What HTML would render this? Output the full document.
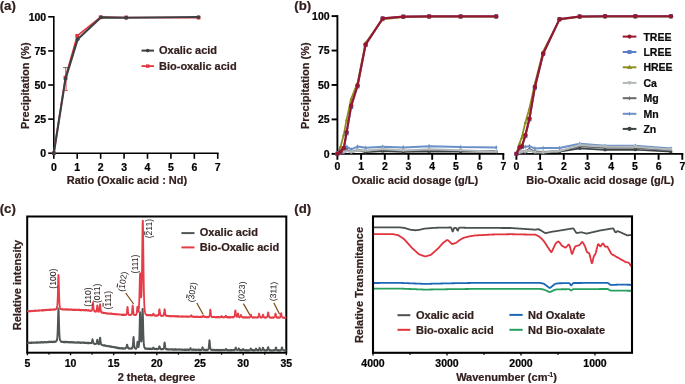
<!DOCTYPE html>
<html><head><meta charset="utf-8"><title>Figure</title>
<style>
html,body{margin:0;padding:0;background:#fff;}
body{width:685px;height:384px;overflow:hidden;font-family:"Liberation Sans",sans-serif;}
svg{display:block;will-change:transform;}
svg text{font-family:"Liberation Sans",sans-serif;}
</style></head><body>
<svg width="685" height="384" viewBox="0 0 685 384">
<rect width="685" height="384" fill="#fff"/>
<line x1="53.80" y1="16.00" x2="53.80" y2="154.00" stroke="#000" stroke-width="1.6" stroke-linecap="butt"/>
<line x1="53.00" y1="153.20" x2="218.54" y2="153.20" stroke="#000" stroke-width="1.6" stroke-linecap="butt"/>
<line x1="48.20" y1="153.20" x2="53.80" y2="153.20" stroke="#000" stroke-width="1.6" stroke-linecap="butt"/>
<text x="46.20" y="157.10" font-size="10.5" font-weight="bold" text-anchor="end" fill="#000" stroke="#000" stroke-width="0.22" >0</text>
<line x1="48.20" y1="119.10" x2="53.80" y2="119.10" stroke="#000" stroke-width="1.6" stroke-linecap="butt"/>
<text x="46.20" y="123.00" font-size="10.5" font-weight="bold" text-anchor="end" fill="#000" stroke="#000" stroke-width="0.22" >25</text>
<line x1="48.20" y1="85.00" x2="53.80" y2="85.00" stroke="#000" stroke-width="1.6" stroke-linecap="butt"/>
<text x="46.20" y="88.90" font-size="10.5" font-weight="bold" text-anchor="end" fill="#000" stroke="#000" stroke-width="0.22" >50</text>
<line x1="48.20" y1="50.90" x2="53.80" y2="50.90" stroke="#000" stroke-width="1.6" stroke-linecap="butt"/>
<text x="46.20" y="54.80" font-size="10.5" font-weight="bold" text-anchor="end" fill="#000" stroke="#000" stroke-width="0.22" >75</text>
<line x1="48.20" y1="16.80" x2="53.80" y2="16.80" stroke="#000" stroke-width="1.6" stroke-linecap="butt"/>
<text x="46.20" y="20.70" font-size="10.5" font-weight="bold" text-anchor="end" fill="#000" stroke="#000" stroke-width="0.22" >100</text>
<line x1="53.80" y1="153.20" x2="53.80" y2="158.80" stroke="#000" stroke-width="1.6" stroke-linecap="butt"/>
<text x="53.80" y="170.50" font-size="10.5" font-weight="bold" text-anchor="middle" fill="#000" stroke="#000" stroke-width="0.22" >0</text>
<line x1="77.22" y1="153.20" x2="77.22" y2="158.80" stroke="#000" stroke-width="1.6" stroke-linecap="butt"/>
<text x="77.22" y="170.50" font-size="10.5" font-weight="bold" text-anchor="middle" fill="#000" stroke="#000" stroke-width="0.22" >1</text>
<line x1="100.64" y1="153.20" x2="100.64" y2="158.80" stroke="#000" stroke-width="1.6" stroke-linecap="butt"/>
<text x="100.64" y="170.50" font-size="10.5" font-weight="bold" text-anchor="middle" fill="#000" stroke="#000" stroke-width="0.22" >2</text>
<line x1="124.06" y1="153.20" x2="124.06" y2="158.80" stroke="#000" stroke-width="1.6" stroke-linecap="butt"/>
<text x="124.06" y="170.50" font-size="10.5" font-weight="bold" text-anchor="middle" fill="#000" stroke="#000" stroke-width="0.22" >3</text>
<line x1="147.48" y1="153.20" x2="147.48" y2="158.80" stroke="#000" stroke-width="1.6" stroke-linecap="butt"/>
<text x="147.48" y="170.50" font-size="10.5" font-weight="bold" text-anchor="middle" fill="#000" stroke="#000" stroke-width="0.22" >4</text>
<line x1="170.90" y1="153.20" x2="170.90" y2="158.80" stroke="#000" stroke-width="1.6" stroke-linecap="butt"/>
<text x="170.90" y="170.50" font-size="10.5" font-weight="bold" text-anchor="middle" fill="#000" stroke="#000" stroke-width="0.22" >5</text>
<line x1="194.32" y1="153.20" x2="194.32" y2="158.80" stroke="#000" stroke-width="1.6" stroke-linecap="butt"/>
<text x="194.32" y="170.50" font-size="10.5" font-weight="bold" text-anchor="middle" fill="#000" stroke="#000" stroke-width="0.22" >6</text>
<line x1="217.74" y1="153.20" x2="217.74" y2="158.80" stroke="#000" stroke-width="1.6" stroke-linecap="butt"/>
<text x="217.74" y="170.50" font-size="10.5" font-weight="bold" text-anchor="middle" fill="#000" stroke="#000" stroke-width="0.22" >7</text>
<text x="127.00" y="183.60" font-size="11" font-weight="bold" text-anchor="middle" fill="#33201e" stroke="#33201e" stroke-width="0.22" >Ratio (Oxalic acid : Nd)</text>
<text x="28.90" y="85.70" font-size="11" font-weight="bold" text-anchor="middle" fill="#33201e" stroke="#33201e" stroke-width="0.22" transform="rotate(-90 28.9 85.7)" >Precipitation (%)</text>
<text x="-0.30" y="10.00" font-size="13.2" font-weight="bold" text-anchor="start" fill="#33201e" stroke="#33201e" stroke-width="0.22" >(a)</text>
<line x1="66.11" y1="77.50" x2="66.11" y2="90.40" stroke="#e2353f" stroke-width="0.8" stroke-linecap="butt"/>
<line x1="64.91" y1="90.40" x2="67.91" y2="90.40" stroke="#e2353f" stroke-width="0.9" stroke-linecap="butt"/>
<line x1="65.71" y1="67.60" x2="65.71" y2="77.50" stroke="#6b4a48" stroke-width="0.8" stroke-linecap="butt"/>
<line x1="63.11" y1="67.60" x2="68.11" y2="67.60" stroke="#6b4a48" stroke-width="0.9" stroke-linecap="butt"/>
<polyline points="53.80,153.20 65.51,77.50 77.22,35.90 100.64,17.21 126.17,17.48 198.54,17.62" fill="none" stroke="#e2353f" stroke-width="1.7" stroke-linejoin="round" stroke-linecap="round" />
<rect x="51.90" y="151.30" width="3.8" height="3.8" fill="#e2353f"/>
<rect x="63.61" y="75.60" width="3.8" height="3.8" fill="#e2353f"/>
<rect x="75.32" y="34.00" width="3.8" height="3.8" fill="#e2353f"/>
<rect x="98.74" y="15.31" width="3.8" height="3.8" fill="#e2353f"/>
<rect x="124.27" y="15.58" width="3.8" height="3.8" fill="#e2353f"/>
<rect x="196.64" y="15.72" width="3.8" height="3.8" fill="#e2353f"/>
<polyline points="53.80,153.20 65.51,78.86 77.69,39.17 101.11,17.35 126.17,17.75 198.54,17.07" fill="none" stroke="#3c4043" stroke-width="2.1" stroke-linejoin="round" stroke-linecap="round" />
<circle cx="53.80" cy="153.20" r="1.9" fill="#3c4043"/>
<circle cx="65.51" cy="78.86" r="1.9" fill="#3c4043"/>
<circle cx="77.69" cy="39.17" r="1.9" fill="#3c4043"/>
<circle cx="101.11" cy="17.35" r="1.9" fill="#3c4043"/>
<circle cx="126.17" cy="17.75" r="1.9" fill="#3c4043"/>
<circle cx="198.54" cy="17.07" r="1.9" fill="#3c4043"/>
<line x1="141.50" y1="50.60" x2="154.00" y2="50.60" stroke="#3c4043" stroke-width="2.0" stroke-linecap="butt"/>
<circle cx="147.7" cy="50.6" r="1.8" fill="#3c4043"/>
<line x1="141.50" y1="66.10" x2="154.00" y2="66.10" stroke="#e2353f" stroke-width="1.8" stroke-linecap="butt"/>
<rect x="146" y="64.4" width="3.4" height="3.4" fill="#e2353f"/>
<text x="159.00" y="54.20" font-size="11" font-weight="bold" text-anchor="start" fill="#33201e" stroke="#33201e" stroke-width="0.22" >Oxalic acid</text>
<text x="159.00" y="69.80" font-size="11" font-weight="bold" text-anchor="start" fill="#33201e" stroke="#33201e" stroke-width="0.22" >Bio-oxalic acid</text>
<line x1="337.40" y1="15.15" x2="337.40" y2="154.80" stroke="#000" stroke-width="1.9" stroke-linecap="butt"/>
<line x1="336.45" y1="153.85" x2="504.25" y2="153.85" stroke="#000" stroke-width="1.9" stroke-linecap="butt"/>
<line x1="515.45" y1="153.85" x2="683.25" y2="153.85" stroke="#000" stroke-width="1.9" stroke-linecap="butt"/>
<line x1="331.60" y1="153.85" x2="337.40" y2="153.85" stroke="#000" stroke-width="1.9" stroke-linecap="butt"/>
<text x="329.60" y="157.75" font-size="10.5" font-weight="bold" text-anchor="end" fill="#000" stroke="#000" stroke-width="0.22" >0</text>
<line x1="331.60" y1="119.41" x2="337.40" y2="119.41" stroke="#000" stroke-width="1.9" stroke-linecap="butt"/>
<text x="329.60" y="123.31" font-size="10.5" font-weight="bold" text-anchor="end" fill="#000" stroke="#000" stroke-width="0.22" >25</text>
<line x1="331.60" y1="84.97" x2="337.40" y2="84.97" stroke="#000" stroke-width="1.9" stroke-linecap="butt"/>
<text x="329.60" y="88.88" font-size="10.5" font-weight="bold" text-anchor="end" fill="#000" stroke="#000" stroke-width="0.22" >50</text>
<line x1="331.60" y1="50.54" x2="337.40" y2="50.54" stroke="#000" stroke-width="1.9" stroke-linecap="butt"/>
<text x="329.60" y="54.44" font-size="10.5" font-weight="bold" text-anchor="end" fill="#000" stroke="#000" stroke-width="0.22" >75</text>
<line x1="331.60" y1="16.10" x2="337.40" y2="16.10" stroke="#000" stroke-width="1.9" stroke-linecap="butt"/>
<text x="329.60" y="20.00" font-size="10.5" font-weight="bold" text-anchor="end" fill="#000" stroke="#000" stroke-width="0.22" >100</text>
<line x1="337.40" y1="153.85" x2="337.40" y2="159.75" stroke="#000" stroke-width="1.9" stroke-linecap="butt"/>
<text x="337.40" y="170.20" font-size="10.5" font-weight="bold" text-anchor="middle" fill="#000" stroke="#000" stroke-width="0.22" >0</text>
<line x1="516.40" y1="153.85" x2="516.40" y2="159.75" stroke="#000" stroke-width="1.9" stroke-linecap="butt"/>
<text x="516.40" y="170.20" font-size="10.5" font-weight="bold" text-anchor="middle" fill="#000" stroke="#000" stroke-width="0.22" >0</text>
<line x1="361.10" y1="153.85" x2="361.10" y2="159.75" stroke="#000" stroke-width="1.9" stroke-linecap="butt"/>
<text x="361.10" y="170.20" font-size="10.5" font-weight="bold" text-anchor="middle" fill="#000" stroke="#000" stroke-width="0.22" >1</text>
<line x1="540.10" y1="153.85" x2="540.10" y2="159.75" stroke="#000" stroke-width="1.9" stroke-linecap="butt"/>
<text x="540.10" y="170.20" font-size="10.5" font-weight="bold" text-anchor="middle" fill="#000" stroke="#000" stroke-width="0.22" >1</text>
<line x1="384.80" y1="153.85" x2="384.80" y2="159.75" stroke="#000" stroke-width="1.9" stroke-linecap="butt"/>
<text x="384.80" y="170.20" font-size="10.5" font-weight="bold" text-anchor="middle" fill="#000" stroke="#000" stroke-width="0.22" >2</text>
<line x1="563.80" y1="153.85" x2="563.80" y2="159.75" stroke="#000" stroke-width="1.9" stroke-linecap="butt"/>
<text x="563.80" y="170.20" font-size="10.5" font-weight="bold" text-anchor="middle" fill="#000" stroke="#000" stroke-width="0.22" >2</text>
<line x1="408.50" y1="153.85" x2="408.50" y2="159.75" stroke="#000" stroke-width="1.9" stroke-linecap="butt"/>
<text x="408.50" y="170.20" font-size="10.5" font-weight="bold" text-anchor="middle" fill="#000" stroke="#000" stroke-width="0.22" >3</text>
<line x1="587.50" y1="153.85" x2="587.50" y2="159.75" stroke="#000" stroke-width="1.9" stroke-linecap="butt"/>
<text x="587.50" y="170.20" font-size="10.5" font-weight="bold" text-anchor="middle" fill="#000" stroke="#000" stroke-width="0.22" >3</text>
<line x1="432.20" y1="153.85" x2="432.20" y2="159.75" stroke="#000" stroke-width="1.9" stroke-linecap="butt"/>
<text x="432.20" y="170.20" font-size="10.5" font-weight="bold" text-anchor="middle" fill="#000" stroke="#000" stroke-width="0.22" >4</text>
<line x1="611.20" y1="153.85" x2="611.20" y2="159.75" stroke="#000" stroke-width="1.9" stroke-linecap="butt"/>
<text x="611.20" y="170.20" font-size="10.5" font-weight="bold" text-anchor="middle" fill="#000" stroke="#000" stroke-width="0.22" >4</text>
<line x1="455.90" y1="153.85" x2="455.90" y2="159.75" stroke="#000" stroke-width="1.9" stroke-linecap="butt"/>
<text x="455.90" y="170.20" font-size="10.5" font-weight="bold" text-anchor="middle" fill="#000" stroke="#000" stroke-width="0.22" >5</text>
<line x1="634.90" y1="153.85" x2="634.90" y2="159.75" stroke="#000" stroke-width="1.9" stroke-linecap="butt"/>
<text x="634.90" y="170.20" font-size="10.5" font-weight="bold" text-anchor="middle" fill="#000" stroke="#000" stroke-width="0.22" >5</text>
<line x1="479.60" y1="153.85" x2="479.60" y2="159.75" stroke="#000" stroke-width="1.9" stroke-linecap="butt"/>
<text x="479.60" y="170.20" font-size="10.5" font-weight="bold" text-anchor="middle" fill="#000" stroke="#000" stroke-width="0.22" >6</text>
<line x1="658.60" y1="153.85" x2="658.60" y2="159.75" stroke="#000" stroke-width="1.9" stroke-linecap="butt"/>
<text x="658.60" y="170.20" font-size="10.5" font-weight="bold" text-anchor="middle" fill="#000" stroke="#000" stroke-width="0.22" >6</text>
<line x1="503.30" y1="153.85" x2="503.30" y2="159.75" stroke="#000" stroke-width="1.9" stroke-linecap="butt"/>
<text x="503.30" y="170.20" font-size="10.5" font-weight="bold" text-anchor="middle" fill="#000" stroke="#000" stroke-width="0.22" >7</text>
<line x1="682.30" y1="153.85" x2="682.30" y2="159.75" stroke="#000" stroke-width="1.9" stroke-linecap="butt"/>
<text x="682.30" y="170.20" font-size="10.5" font-weight="bold" text-anchor="middle" fill="#000" stroke="#000" stroke-width="0.22" >7</text>
<text x="415.00" y="184.00" font-size="11" font-weight="bold" text-anchor="middle" fill="#33201e" stroke="#33201e" stroke-width="0.22" >Oxalic acid dosage (g/L)</text>
<text x="600.30" y="184.00" font-size="11" font-weight="bold" text-anchor="middle" fill="#33201e" stroke="#33201e" stroke-width="0.22" >Bio-Oxalic acid dosage (g/L)</text>
<text x="308.60" y="85.70" font-size="11" font-weight="bold" text-anchor="middle" fill="#33201e" stroke="#33201e" stroke-width="0.22" transform="rotate(-90 308.6 85.7)" >Precipitation (%)</text>
<text x="294.30" y="10.00" font-size="13.2" font-weight="bold" text-anchor="start" fill="#33201e" stroke="#33201e" stroke-width="0.22" >(b)</text>
<polyline points="337.40,153.85 340.48,147.24 343.80,148.34 346.64,146.69 351.15,149.30 357.54,146.55 365.60,147.79 382.67,146.69 403.29,147.38 429.12,146.14 460.64,147.10 496.19,147.38" fill="none" stroke="#6a90c8" stroke-width="2.0" stroke-linejoin="round" stroke-linecap="round" />
<path d="M336.13,153.85 L337.40,151.55 L338.66,153.85 L337.40,156.15Z" fill="#6a90c8"/>
<path d="M339.22,147.24 L340.48,144.94 L341.75,147.24 L340.48,149.54Z" fill="#6a90c8"/>
<path d="M342.53,148.34 L343.80,146.04 L345.06,148.34 L343.80,150.64Z" fill="#6a90c8"/>
<path d="M345.38,146.69 L346.64,144.39 L347.91,146.69 L346.64,148.99Z" fill="#6a90c8"/>
<path d="M349.88,149.30 L351.15,147.00 L352.41,149.30 L351.15,151.60Z" fill="#6a90c8"/>
<path d="M356.28,146.55 L357.54,144.25 L358.81,146.55 L357.54,148.85Z" fill="#6a90c8"/>
<path d="M364.34,147.79 L365.60,145.49 L366.87,147.79 L365.60,150.09Z" fill="#6a90c8"/>
<path d="M381.40,146.69 L382.67,144.39 L383.93,146.69 L382.67,148.99Z" fill="#6a90c8"/>
<path d="M402.02,147.38 L403.29,145.08 L404.55,147.38 L403.29,149.68Z" fill="#6a90c8"/>
<path d="M427.85,146.14 L429.12,143.84 L430.38,146.14 L429.12,148.44Z" fill="#6a90c8"/>
<path d="M459.38,147.10 L460.64,144.80 L461.90,147.10 L460.64,149.40Z" fill="#6a90c8"/>
<path d="M494.92,147.38 L496.19,145.08 L497.45,147.38 L496.19,149.68Z" fill="#6a90c8"/>
<polyline points="337.40,153.85 340.48,152.75 343.80,151.78 346.64,150.27 351.15,151.92 357.54,149.72 365.60,150.82 382.67,149.72 403.29,150.82 429.12,150.27 460.64,150.82 496.19,150.96" fill="none" stroke="#666a6b" stroke-width="1.6" stroke-linejoin="round" stroke-linecap="round" />
<path d="M336.41,153.85 L337.40,152.05 L338.39,153.85 L337.40,155.65Z" fill="#666a6b"/>
<path d="M339.49,152.75 L340.48,150.95 L341.47,152.75 L340.48,154.55Z" fill="#666a6b"/>
<path d="M342.81,151.78 L343.80,149.98 L344.79,151.78 L343.80,153.58Z" fill="#666a6b"/>
<path d="M345.65,150.27 L346.64,148.47 L347.63,150.27 L346.64,152.07Z" fill="#666a6b"/>
<path d="M350.16,151.92 L351.15,150.12 L352.14,151.92 L351.15,153.72Z" fill="#666a6b"/>
<path d="M356.55,149.72 L357.54,147.92 L358.53,149.72 L357.54,151.52Z" fill="#666a6b"/>
<path d="M364.61,150.82 L365.60,149.02 L366.59,150.82 L365.60,152.62Z" fill="#666a6b"/>
<path d="M381.68,149.72 L382.67,147.92 L383.66,149.72 L382.67,151.52Z" fill="#666a6b"/>
<path d="M402.30,150.82 L403.29,149.02 L404.28,150.82 L403.29,152.62Z" fill="#666a6b"/>
<path d="M428.13,150.27 L429.12,148.47 L430.11,150.27 L429.12,152.07Z" fill="#666a6b"/>
<path d="M459.65,150.82 L460.64,149.02 L461.63,150.82 L460.64,152.62Z" fill="#666a6b"/>
<path d="M495.20,150.96 L496.19,149.16 L497.18,150.96 L496.19,152.76Z" fill="#666a6b"/>
<polyline points="337.40,153.85 340.48,153.16 343.80,152.47 346.64,149.72 351.15,152.47 357.54,150.27 365.60,152.20 382.67,151.09 403.29,151.92 429.12,151.37 460.64,151.78 496.19,151.65" fill="none" stroke="#3d4345" stroke-width="1.6" stroke-linejoin="round" stroke-linecap="round" />
<rect x="336.00" y="152.45" width="2.8" height="2.8" fill="#3d4345"/>
<rect x="339.08" y="151.76" width="2.8" height="2.8" fill="#3d4345"/>
<rect x="342.40" y="151.07" width="2.8" height="2.8" fill="#3d4345"/>
<rect x="345.24" y="148.32" width="2.8" height="2.8" fill="#3d4345"/>
<rect x="349.75" y="151.07" width="2.8" height="2.8" fill="#3d4345"/>
<rect x="356.14" y="148.87" width="2.8" height="2.8" fill="#3d4345"/>
<rect x="364.20" y="150.80" width="2.8" height="2.8" fill="#3d4345"/>
<rect x="381.27" y="149.69" width="2.8" height="2.8" fill="#3d4345"/>
<rect x="401.89" y="150.52" width="2.8" height="2.8" fill="#3d4345"/>
<rect x="427.72" y="149.97" width="2.8" height="2.8" fill="#3d4345"/>
<rect x="459.24" y="150.38" width="2.8" height="2.8" fill="#3d4345"/>
<rect x="494.79" y="150.25" width="2.8" height="2.8" fill="#3d4345"/>
<polyline points="337.40,153.85 340.48,152.75 343.80,152.20 346.64,151.09 351.15,152.20 357.54,150.54 365.60,150.82 382.67,149.03 403.29,150.41 429.12,149.30 460.64,150.27 496.19,151.78" fill="none" stroke="#b3b9ba" stroke-width="2.0" stroke-linejoin="round" stroke-linecap="round" />
<path d="M335.70,152.15 L339.10,152.15 L337.40,155.55Z" fill="#b3b9ba"/>
<path d="M338.78,151.05 L342.18,151.05 L340.48,154.45Z" fill="#b3b9ba"/>
<path d="M342.10,150.50 L345.50,150.50 L343.80,153.90Z" fill="#b3b9ba"/>
<path d="M344.94,149.40 L348.34,149.40 L346.64,152.79Z" fill="#b3b9ba"/>
<path d="M349.45,150.50 L352.85,150.50 L351.15,153.90Z" fill="#b3b9ba"/>
<path d="M355.84,148.84 L359.24,148.84 L357.54,152.24Z" fill="#b3b9ba"/>
<path d="M363.90,149.12 L367.30,149.12 L365.60,152.52Z" fill="#b3b9ba"/>
<path d="M380.97,147.33 L384.37,147.33 L382.67,150.73Z" fill="#b3b9ba"/>
<path d="M401.59,148.71 L404.99,148.71 L403.29,152.11Z" fill="#b3b9ba"/>
<path d="M427.42,147.60 L430.82,147.60 L429.12,151.00Z" fill="#b3b9ba"/>
<path d="M458.94,148.57 L462.34,148.57 L460.64,151.97Z" fill="#b3b9ba"/>
<path d="M494.49,150.08 L497.89,150.08 L496.19,153.48Z" fill="#b3b9ba"/>
<polyline points="337.40,153.85 340.48,146.96 343.80,134.56 346.64,119.41 351.15,98.75 357.54,82.91 365.60,42.82 382.67,19.41 403.29,17.06 429.12,16.65 460.64,16.65 496.19,16.65" fill="none" stroke="#8e8f23" stroke-width="1.8" stroke-linejoin="round" stroke-linecap="round" />
<path d="M335.60,155.65 L339.20,155.65 L337.40,152.05Z" fill="#8e8f23"/>
<path d="M338.68,148.76 L342.28,148.76 L340.48,145.16Z" fill="#8e8f23"/>
<path d="M342.00,136.37 L345.60,136.37 L343.80,132.76Z" fill="#8e8f23"/>
<path d="M344.84,121.21 L348.44,121.21 L346.64,117.61Z" fill="#8e8f23"/>
<path d="M349.35,100.55 L352.95,100.55 L351.15,96.95Z" fill="#8e8f23"/>
<path d="M355.74,84.71 L359.34,84.71 L357.54,81.11Z" fill="#8e8f23"/>
<path d="M363.80,44.62 L367.40,44.62 L365.60,41.02Z" fill="#8e8f23"/>
<path d="M380.87,21.21 L384.47,21.21 L382.67,17.61Z" fill="#8e8f23"/>
<path d="M401.49,18.86 L405.09,18.86 L403.29,15.26Z" fill="#8e8f23"/>
<path d="M427.32,18.45 L430.92,18.45 L429.12,14.85Z" fill="#8e8f23"/>
<path d="M458.84,18.45 L462.44,18.45 L460.64,14.85Z" fill="#8e8f23"/>
<path d="M494.39,18.45 L497.99,18.45 L496.19,14.85Z" fill="#8e8f23"/>
<polyline points="337.40,153.85 340.48,152.06 343.80,148.34 346.64,133.19 351.15,107.01 357.54,86.35 365.60,45.03 382.67,18.44 403.29,16.65 429.12,16.38 460.64,16.38 496.19,16.38" fill="none" stroke="#5b7ec4" stroke-width="1.8" stroke-linejoin="round" stroke-linecap="round" />
<rect x="335.30" y="151.75" width="4.2" height="4.2" fill="#5b7ec4"/>
<rect x="338.38" y="149.96" width="4.2" height="4.2" fill="#5b7ec4"/>
<rect x="341.70" y="146.24" width="4.2" height="4.2" fill="#5b7ec4"/>
<rect x="344.54" y="131.09" width="4.2" height="4.2" fill="#5b7ec4"/>
<rect x="349.05" y="104.91" width="4.2" height="4.2" fill="#5b7ec4"/>
<rect x="355.44" y="84.25" width="4.2" height="4.2" fill="#5b7ec4"/>
<rect x="363.50" y="42.93" width="4.2" height="4.2" fill="#5b7ec4"/>
<rect x="380.57" y="16.34" width="4.2" height="4.2" fill="#5b7ec4"/>
<rect x="401.19" y="14.55" width="4.2" height="4.2" fill="#5b7ec4"/>
<rect x="427.02" y="14.28" width="4.2" height="4.2" fill="#5b7ec4"/>
<rect x="458.54" y="14.28" width="4.2" height="4.2" fill="#5b7ec4"/>
<rect x="494.09" y="14.28" width="4.2" height="4.2" fill="#5b7ec4"/>
<polyline points="337.40,153.85 340.48,151.78 343.80,148.06 346.64,132.09 351.15,105.64 357.54,85.53 365.60,44.48 382.67,18.44 403.29,16.65 429.12,16.38 460.64,16.38 496.19,16.38" fill="none" stroke="#96172e" stroke-width="2.2" stroke-linejoin="round" stroke-linecap="round" />
<circle cx="337.40" cy="153.85" r="2.2" fill="#96172e"/>
<circle cx="340.48" cy="151.78" r="2.2" fill="#96172e"/>
<circle cx="343.80" cy="148.06" r="2.2" fill="#96172e"/>
<circle cx="346.64" cy="132.09" r="2.2" fill="#96172e"/>
<circle cx="351.15" cy="105.64" r="2.2" fill="#96172e"/>
<circle cx="357.54" cy="85.53" r="2.2" fill="#96172e"/>
<circle cx="365.60" cy="44.48" r="2.2" fill="#96172e"/>
<circle cx="382.67" cy="18.44" r="2.2" fill="#96172e"/>
<circle cx="403.29" cy="16.65" r="2.2" fill="#96172e"/>
<circle cx="429.12" cy="16.38" r="2.2" fill="#96172e"/>
<circle cx="460.64" cy="16.38" r="2.2" fill="#96172e"/>
<circle cx="496.19" cy="16.38" r="2.2" fill="#96172e"/>
<polyline points="516.40,153.85 519.72,146.96 521.85,146.41 525.41,146.69 529.43,146.14 534.89,148.62 543.18,148.06 559.53,148.06 579.68,143.79 605.04,145.72 635.37,145.72 670.92,148.48" fill="none" stroke="#6a90c8" stroke-width="2.0" stroke-linejoin="round" stroke-linecap="round" />
<path d="M515.13,153.85 L516.40,151.55 L517.66,153.85 L516.40,156.15Z" fill="#6a90c8"/>
<path d="M518.45,146.96 L519.72,144.66 L520.98,146.96 L519.72,149.26Z" fill="#6a90c8"/>
<path d="M520.59,146.41 L521.85,144.11 L523.12,146.41 L521.85,148.71Z" fill="#6a90c8"/>
<path d="M524.14,146.69 L525.41,144.39 L526.67,146.69 L525.41,148.99Z" fill="#6a90c8"/>
<path d="M528.17,146.14 L529.43,143.84 L530.70,146.14 L529.43,148.44Z" fill="#6a90c8"/>
<path d="M533.62,148.62 L534.89,146.32 L536.15,148.62 L534.89,150.92Z" fill="#6a90c8"/>
<path d="M541.92,148.06 L543.18,145.76 L544.45,148.06 L543.18,150.36Z" fill="#6a90c8"/>
<path d="M558.27,148.06 L559.53,145.76 L560.80,148.06 L559.53,150.36Z" fill="#6a90c8"/>
<path d="M578.41,143.79 L579.68,141.49 L580.94,143.79 L579.68,146.09Z" fill="#6a90c8"/>
<path d="M603.77,145.72 L605.04,143.42 L606.30,145.72 L605.04,148.02Z" fill="#6a90c8"/>
<path d="M634.11,145.72 L635.37,143.42 L636.64,145.72 L635.37,148.02Z" fill="#6a90c8"/>
<path d="M669.66,148.48 L670.92,146.18 L672.19,148.48 L670.92,150.78Z" fill="#6a90c8"/>
<polyline points="516.40,153.85 519.72,151.78 521.85,151.09 525.41,151.09 529.43,148.89 534.89,151.37 543.18,151.92 559.53,150.82 579.68,146.41 605.04,147.93 635.37,147.93 670.92,150.27" fill="none" stroke="#666a6b" stroke-width="1.6" stroke-linejoin="round" stroke-linecap="round" />
<path d="M515.41,153.85 L516.40,152.05 L517.39,153.85 L516.40,155.65Z" fill="#666a6b"/>
<path d="M518.73,151.78 L519.72,149.98 L520.71,151.78 L519.72,153.58Z" fill="#666a6b"/>
<path d="M520.86,151.09 L521.85,149.29 L522.84,151.09 L521.85,152.90Z" fill="#666a6b"/>
<path d="M524.42,151.09 L525.41,149.29 L526.40,151.09 L525.41,152.90Z" fill="#666a6b"/>
<path d="M528.44,148.89 L529.43,147.09 L530.42,148.89 L529.43,150.69Z" fill="#666a6b"/>
<path d="M533.90,151.37 L534.89,149.57 L535.88,151.37 L534.89,153.17Z" fill="#666a6b"/>
<path d="M542.19,151.92 L543.18,150.12 L544.17,151.92 L543.18,153.72Z" fill="#666a6b"/>
<path d="M558.54,150.82 L559.53,149.02 L560.52,150.82 L559.53,152.62Z" fill="#666a6b"/>
<path d="M578.69,146.41 L579.68,144.61 L580.67,146.41 L579.68,148.21Z" fill="#666a6b"/>
<path d="M604.05,147.93 L605.04,146.13 L606.03,147.93 L605.04,149.73Z" fill="#666a6b"/>
<path d="M634.38,147.93 L635.37,146.13 L636.36,147.93 L635.37,149.73Z" fill="#666a6b"/>
<path d="M669.93,150.27 L670.92,148.47 L671.91,150.27 L670.92,152.07Z" fill="#666a6b"/>
<polyline points="516.40,153.85 519.72,152.75 521.85,152.47 525.41,152.47 529.43,149.99 534.89,152.20 543.18,152.75 559.53,151.65 579.68,148.34 605.04,149.86 635.37,149.72 670.92,151.65" fill="none" stroke="#3d4345" stroke-width="1.6" stroke-linejoin="round" stroke-linecap="round" />
<rect x="515.00" y="152.45" width="2.8" height="2.8" fill="#3d4345"/>
<rect x="518.32" y="151.35" width="2.8" height="2.8" fill="#3d4345"/>
<rect x="520.45" y="151.07" width="2.8" height="2.8" fill="#3d4345"/>
<rect x="524.01" y="151.07" width="2.8" height="2.8" fill="#3d4345"/>
<rect x="528.03" y="148.59" width="2.8" height="2.8" fill="#3d4345"/>
<rect x="533.49" y="150.80" width="2.8" height="2.8" fill="#3d4345"/>
<rect x="541.78" y="151.35" width="2.8" height="2.8" fill="#3d4345"/>
<rect x="558.13" y="150.25" width="2.8" height="2.8" fill="#3d4345"/>
<rect x="578.28" y="146.94" width="2.8" height="2.8" fill="#3d4345"/>
<rect x="603.64" y="148.46" width="2.8" height="2.8" fill="#3d4345"/>
<rect x="633.97" y="148.32" width="2.8" height="2.8" fill="#3d4345"/>
<rect x="669.52" y="150.25" width="2.8" height="2.8" fill="#3d4345"/>
<polyline points="516.40,153.85 519.72,152.47 521.85,151.78 525.41,151.78 529.43,150.54 534.89,152.20 543.18,152.47 559.53,151.09 579.68,145.03 605.04,146.55 635.37,146.69 670.92,149.58" fill="none" stroke="#b3b9ba" stroke-width="2.0" stroke-linejoin="round" stroke-linecap="round" />
<path d="M514.70,152.15 L518.10,152.15 L516.40,155.55Z" fill="#b3b9ba"/>
<path d="M518.02,150.77 L521.42,150.77 L519.72,154.17Z" fill="#b3b9ba"/>
<path d="M520.15,150.08 L523.55,150.08 L521.85,153.48Z" fill="#b3b9ba"/>
<path d="M523.71,150.08 L527.11,150.08 L525.41,153.48Z" fill="#b3b9ba"/>
<path d="M527.73,148.84 L531.13,148.84 L529.43,152.24Z" fill="#b3b9ba"/>
<path d="M533.19,150.50 L536.59,150.50 L534.89,153.90Z" fill="#b3b9ba"/>
<path d="M541.48,150.77 L544.88,150.77 L543.18,154.17Z" fill="#b3b9ba"/>
<path d="M557.83,149.40 L561.23,149.40 L559.53,152.79Z" fill="#b3b9ba"/>
<path d="M577.98,143.33 L581.38,143.33 L579.68,146.73Z" fill="#b3b9ba"/>
<path d="M603.34,144.85 L606.74,144.85 L605.04,148.25Z" fill="#b3b9ba"/>
<path d="M633.67,144.99 L637.07,144.99 L635.37,148.39Z" fill="#b3b9ba"/>
<path d="M669.22,147.88 L672.62,147.88 L670.92,151.28Z" fill="#b3b9ba"/>
<polyline points="516.40,153.85 519.72,142.83 521.85,137.32 525.41,122.17 529.43,108.39 534.89,83.60 543.18,51.50 559.53,19.68 579.68,16.79 605.04,16.51 635.37,16.51 670.92,16.51" fill="none" stroke="#8e8f23" stroke-width="1.8" stroke-linejoin="round" stroke-linecap="round" />
<path d="M514.60,155.65 L518.20,155.65 L516.40,152.05Z" fill="#8e8f23"/>
<path d="M517.92,144.63 L521.52,144.63 L519.72,141.03Z" fill="#8e8f23"/>
<path d="M520.05,139.12 L523.65,139.12 L521.85,135.52Z" fill="#8e8f23"/>
<path d="M523.61,123.97 L527.21,123.97 L525.41,120.37Z" fill="#8e8f23"/>
<path d="M527.63,110.19 L531.23,110.19 L529.43,106.59Z" fill="#8e8f23"/>
<path d="M533.09,85.40 L536.69,85.40 L534.89,81.80Z" fill="#8e8f23"/>
<path d="M541.38,53.30 L544.98,53.30 L543.18,49.70Z" fill="#8e8f23"/>
<path d="M557.73,21.48 L561.33,21.48 L559.53,17.88Z" fill="#8e8f23"/>
<path d="M577.88,18.59 L581.48,18.59 L579.68,14.99Z" fill="#8e8f23"/>
<path d="M603.24,18.31 L606.84,18.31 L605.04,14.71Z" fill="#8e8f23"/>
<path d="M633.57,18.31 L637.17,18.31 L635.37,14.71Z" fill="#8e8f23"/>
<path d="M669.12,18.31 L672.72,18.31 L670.92,14.71Z" fill="#8e8f23"/>
<polyline points="516.40,153.85 519.72,147.65 521.85,146.96 525.41,135.94 529.43,119.41 534.89,87.73 543.18,53.98 559.53,19.13 579.68,16.51 605.04,16.24 635.37,16.24 670.92,16.24" fill="none" stroke="#5b7ec4" stroke-width="1.8" stroke-linejoin="round" stroke-linecap="round" />
<rect x="514.30" y="151.75" width="4.2" height="4.2" fill="#5b7ec4"/>
<rect x="517.62" y="145.55" width="4.2" height="4.2" fill="#5b7ec4"/>
<rect x="519.75" y="144.86" width="4.2" height="4.2" fill="#5b7ec4"/>
<rect x="523.31" y="133.84" width="4.2" height="4.2" fill="#5b7ec4"/>
<rect x="527.33" y="117.31" width="4.2" height="4.2" fill="#5b7ec4"/>
<rect x="532.79" y="85.63" width="4.2" height="4.2" fill="#5b7ec4"/>
<rect x="541.08" y="51.88" width="4.2" height="4.2" fill="#5b7ec4"/>
<rect x="557.43" y="17.03" width="4.2" height="4.2" fill="#5b7ec4"/>
<rect x="577.58" y="14.41" width="4.2" height="4.2" fill="#5b7ec4"/>
<rect x="602.94" y="14.14" width="4.2" height="4.2" fill="#5b7ec4"/>
<rect x="633.27" y="14.14" width="4.2" height="4.2" fill="#5b7ec4"/>
<rect x="668.82" y="14.14" width="4.2" height="4.2" fill="#5b7ec4"/>
<polyline points="516.40,153.85 519.72,147.24 521.85,146.41 525.41,135.12 529.43,118.59 534.89,86.90 543.18,53.57 559.53,19.13 579.68,16.51 605.04,16.24 635.37,16.24 670.92,16.24" fill="none" stroke="#96172e" stroke-width="2.2" stroke-linejoin="round" stroke-linecap="round" />
<circle cx="516.40" cy="153.85" r="2.2" fill="#96172e"/>
<circle cx="519.72" cy="147.24" r="2.2" fill="#96172e"/>
<circle cx="521.85" cy="146.41" r="2.2" fill="#96172e"/>
<circle cx="525.41" cy="135.12" r="2.2" fill="#96172e"/>
<circle cx="529.43" cy="118.59" r="2.2" fill="#96172e"/>
<circle cx="534.89" cy="86.90" r="2.2" fill="#96172e"/>
<circle cx="543.18" cy="53.57" r="2.2" fill="#96172e"/>
<circle cx="559.53" cy="19.13" r="2.2" fill="#96172e"/>
<circle cx="579.68" cy="16.51" r="2.2" fill="#96172e"/>
<circle cx="605.04" cy="16.24" r="2.2" fill="#96172e"/>
<circle cx="635.37" cy="16.24" r="2.2" fill="#96172e"/>
<circle cx="670.92" cy="16.24" r="2.2" fill="#96172e"/>
<line x1="622.70" y1="36.60" x2="636.40" y2="36.60" stroke="#96172e" stroke-width="2.0" stroke-linecap="butt"/>
<circle cx="629.5" cy="36.6" r="2.1" fill="#96172e"/>
<text x="643.40" y="40.70" font-size="10.5" font-weight="bold" text-anchor="start" fill="#0b0b0b" stroke="#0b0b0b" stroke-width="0.22" >TREE</text>
<line x1="622.70" y1="52.00" x2="636.40" y2="52.00" stroke="#5b7ec4" stroke-width="2.0" stroke-linecap="butt"/>
<rect x="627.5" y="50.0" width="4.0" height="4.0" fill="#5b7ec4"/>
<text x="643.40" y="56.10" font-size="10.5" font-weight="bold" text-anchor="start" fill="#0b0b0b" stroke="#0b0b0b" stroke-width="0.22" >LREE</text>
<line x1="622.70" y1="67.30" x2="636.40" y2="67.30" stroke="#8e8f23" stroke-width="2.0" stroke-linecap="butt"/>
<path d="M627.0,68.89999999999999 L632.0,68.89999999999999 L629.5,64.7Z" fill="#8e8f23"/>
<text x="643.40" y="71.40" font-size="10.5" font-weight="bold" text-anchor="start" fill="#0b0b0b" stroke="#0b0b0b" stroke-width="0.22" >HREE</text>
<line x1="622.70" y1="82.90" x2="636.40" y2="82.90" stroke="#b3b9ba" stroke-width="2.0" stroke-linecap="butt"/>
<path d="M627.3,81.30000000000001 L631.7,81.30000000000001 L629.5,85.30000000000001Z" fill="#b3b9ba"/>
<text x="643.40" y="87.00" font-size="10.5" font-weight="bold" text-anchor="start" fill="#0b0b0b" stroke="#0b0b0b" stroke-width="0.22" >Ca</text>
<line x1="622.70" y1="98.20" x2="636.40" y2="98.20" stroke="#666a6b" stroke-width="2.0" stroke-linecap="butt"/>
<path d="M628.3,98.2 L629.5,96.0 L630.7,98.2 L629.5,100.4Z" fill="#666a6b"/>
<text x="643.40" y="102.30" font-size="10.5" font-weight="bold" text-anchor="start" fill="#0b0b0b" stroke="#0b0b0b" stroke-width="0.22" >Mg</text>
<line x1="622.70" y1="113.80" x2="636.40" y2="113.80" stroke="#6a90c8" stroke-width="2.0" stroke-linecap="butt"/>
<path d="M628.3,113.8 L629.5,111.6 L630.7,113.8 L629.5,116.0Z" fill="#6a90c8"/>
<text x="643.40" y="117.90" font-size="10.5" font-weight="bold" text-anchor="start" fill="#0b0b0b" stroke="#0b0b0b" stroke-width="0.22" >Mn</text>
<line x1="622.70" y1="128.90" x2="636.40" y2="128.90" stroke="#3d4345" stroke-width="2.0" stroke-linecap="butt"/>
<circle cx="629.5" cy="128.9" r="2.1" fill="#3d4345"/>
<text x="643.40" y="133.00" font-size="10.5" font-weight="bold" text-anchor="start" fill="#0b0b0b" stroke="#0b0b0b" stroke-width="0.22" >Zn</text>
<rect x="27.2" y="216.5" width="259.1" height="136.2" fill="none" stroke="#000" stroke-width="2.0"/>
<line x1="27.40" y1="352.70" x2="27.40" y2="355.30" stroke="#000" stroke-width="1.3" stroke-linecap="butt"/>
<text x="27.40" y="367.10" font-size="10.5" font-weight="bold" text-anchor="middle" fill="#000" stroke="#000" stroke-width="0.22" >5</text>
<line x1="70.55" y1="352.70" x2="70.55" y2="355.30" stroke="#000" stroke-width="1.3" stroke-linecap="butt"/>
<text x="70.55" y="367.10" font-size="10.5" font-weight="bold" text-anchor="middle" fill="#000" stroke="#000" stroke-width="0.22" >10</text>
<line x1="113.70" y1="352.70" x2="113.70" y2="355.30" stroke="#000" stroke-width="1.3" stroke-linecap="butt"/>
<text x="113.70" y="367.10" font-size="10.5" font-weight="bold" text-anchor="middle" fill="#000" stroke="#000" stroke-width="0.22" >15</text>
<line x1="156.85" y1="352.70" x2="156.85" y2="355.30" stroke="#000" stroke-width="1.3" stroke-linecap="butt"/>
<text x="156.85" y="367.10" font-size="10.5" font-weight="bold" text-anchor="middle" fill="#000" stroke="#000" stroke-width="0.22" >20</text>
<line x1="200.00" y1="352.70" x2="200.00" y2="355.30" stroke="#000" stroke-width="1.3" stroke-linecap="butt"/>
<text x="200.00" y="367.10" font-size="10.5" font-weight="bold" text-anchor="middle" fill="#000" stroke="#000" stroke-width="0.22" >25</text>
<line x1="243.15" y1="352.70" x2="243.15" y2="355.30" stroke="#000" stroke-width="1.3" stroke-linecap="butt"/>
<text x="243.15" y="367.10" font-size="10.5" font-weight="bold" text-anchor="middle" fill="#000" stroke="#000" stroke-width="0.22" >30</text>
<line x1="286.30" y1="352.70" x2="286.30" y2="355.30" stroke="#000" stroke-width="1.3" stroke-linecap="butt"/>
<text x="286.30" y="367.10" font-size="10.5" font-weight="bold" text-anchor="middle" fill="#000" stroke="#000" stroke-width="0.22" >35</text>
<line x1="48.98" y1="352.70" x2="48.98" y2="354.70" stroke="#000" stroke-width="1.1" stroke-linecap="butt"/>
<line x1="92.12" y1="352.70" x2="92.12" y2="354.70" stroke="#000" stroke-width="1.1" stroke-linecap="butt"/>
<line x1="135.28" y1="352.70" x2="135.28" y2="354.70" stroke="#000" stroke-width="1.1" stroke-linecap="butt"/>
<line x1="178.43" y1="352.70" x2="178.43" y2="354.70" stroke="#000" stroke-width="1.1" stroke-linecap="butt"/>
<line x1="221.58" y1="352.70" x2="221.58" y2="354.70" stroke="#000" stroke-width="1.1" stroke-linecap="butt"/>
<line x1="264.73" y1="352.70" x2="264.73" y2="354.70" stroke="#000" stroke-width="1.1" stroke-linecap="butt"/>
<text x="156.50" y="381.00" font-size="11" font-weight="bold" text-anchor="middle" fill="#33201e" stroke="#33201e" stroke-width="0.22" >2 theta, degree</text>
<text x="20.60" y="285.00" font-size="11" font-weight="bold" text-anchor="middle" fill="#33201e" stroke="#33201e" stroke-width="0.22" transform="rotate(-90 20.6 285)" >Relative intensity</text>
<text x="-0.30" y="212.50" font-size="13.2" font-weight="bold" text-anchor="start" fill="#33201e" stroke="#33201e" stroke-width="0.22" >(c)</text>
<text x="294.30" y="212.50" font-size="13.2" font-weight="bold" text-anchor="start" fill="#33201e" stroke="#33201e" stroke-width="0.22" >(d)</text>
<clipPath id="cc"><rect x="27.2" y="216.5" width="259.1" height="136.2"/></clipPath>
<g clip-path="url(#cc)">
<polyline points="27.40,342.79 27.57,342.68 27.75,342.98 27.92,342.62 28.09,342.89 28.26,342.79 28.44,342.59 28.61,342.86 28.78,342.57 28.95,342.80 29.13,342.58 29.30,342.58 29.47,342.77 29.64,343.01 29.82,342.58 29.99,342.63 30.16,342.87 30.33,343.06 30.51,342.83 30.68,342.71 30.85,343.05 31.02,342.49 31.20,342.97 31.37,342.62 31.54,342.53 31.71,342.50 31.89,342.61 32.06,342.91 32.23,342.52 32.41,342.76 32.58,342.78 32.75,342.62 32.92,342.72 33.10,342.42 33.27,342.41 33.44,342.49 33.61,342.77 33.79,342.61 33.96,342.54 34.13,342.69 34.30,342.61 34.48,342.51 34.65,342.80 34.82,342.73 34.99,342.45 35.17,342.64 35.34,342.61 35.51,342.81 35.68,342.72 35.86,342.45 36.03,342.85 36.20,342.33 36.38,342.50 36.55,342.70 36.72,342.33 36.89,342.53 37.07,342.25 37.24,342.62 37.41,342.67 37.58,342.55 37.76,342.73 37.93,342.38 38.10,342.60 38.27,342.54 38.45,342.52 38.62,342.44 38.79,342.66 38.96,342.72 39.14,342.43 39.31,342.54 39.48,342.17 39.65,342.55 39.83,342.51 40.00,342.71 40.17,342.60 40.34,342.27 40.52,342.32 40.69,342.49 40.86,342.09 41.04,342.35 41.21,342.17 41.38,342.13 41.55,342.09 41.73,342.51 41.90,342.12 42.07,342.18 42.24,342.26 42.42,342.54 42.59,342.06 42.76,342.28 42.93,342.33 43.11,342.52 43.28,342.48 43.45,342.50 43.62,342.14 43.80,342.22 43.97,342.18 44.14,342.48 44.31,342.52 44.49,342.03 44.66,342.04 44.83,342.07 45.01,342.06 45.18,342.20 45.35,342.26 45.52,342.06 45.70,341.90 45.87,342.14 46.04,342.10 46.21,342.21 46.39,342.44 46.56,342.27 46.73,342.16 46.90,342.22 47.08,342.25 47.25,341.87 47.42,342.37 47.59,342.29 47.77,342.34 47.94,342.29 48.11,342.04 48.28,342.03 48.46,341.85 48.63,342.16 48.80,341.81 48.97,341.81 49.15,341.88 49.32,341.85 49.49,341.95 49.67,341.77 49.84,341.73 50.01,341.82 50.18,341.78 50.36,341.93 50.53,341.72 50.70,342.22 50.87,342.06 51.05,341.77 51.22,341.83 51.39,341.88 51.56,341.88 51.74,341.73 51.91,342.16 52.08,342.24 52.25,341.92 52.43,341.92 52.60,341.67 52.77,341.67 52.94,341.81 53.12,341.76 53.29,342.09 53.46,341.68 53.64,341.59 53.81,342.13 53.98,341.87 54.15,341.63 54.33,341.86 54.50,341.53 54.67,341.82 54.84,342.07 55.02,341.98 55.19,341.86 55.36,341.56 55.53,341.59 55.71,341.42 55.88,341.71 56.05,341.48 56.22,341.50 56.40,341.05 56.57,340.72 56.74,340.69 56.91,340.21 57.09,339.26 57.26,337.89 57.43,335.85 57.60,332.74 57.78,328.06 57.95,322.52 58.12,316.06 58.30,310.54 58.47,308.42 58.64,310.69 58.81,316.00 58.99,322.63 59.16,328.50 59.33,332.57 59.50,335.92 59.68,338.00 59.85,339.32 60.02,339.85 60.19,340.34 60.37,340.73 60.54,340.97 60.71,341.16 60.88,341.54 61.06,341.80 61.23,341.83 61.40,341.66 61.57,341.81 61.75,341.93 61.92,341.52 62.09,341.89 62.27,342.06 62.44,342.00 62.61,341.99 62.78,341.84 62.96,341.67 63.13,342.05 63.30,341.79 63.47,342.08 63.65,342.19 63.82,341.85 63.99,341.86 64.16,342.20 64.34,342.07 64.51,341.75 64.68,341.73 64.85,341.75 65.03,342.21 65.20,342.16 65.37,341.77 65.54,342.19 65.72,342.29 65.89,342.10 66.06,341.92 66.23,342.05 66.41,341.81 66.58,341.74 66.75,342.32 66.93,342.14 67.10,342.07 67.27,342.32 67.44,342.03 67.62,342.30 67.79,342.28 67.96,341.92 68.13,341.95 68.31,341.98 68.48,341.96 68.65,342.17 68.82,341.98 69.00,342.09 69.17,341.92 69.34,342.40 69.51,342.07 69.69,342.14 69.86,342.22 70.03,342.42 70.20,342.14 70.38,342.44 70.55,342.20 70.72,342.23 70.90,342.23 71.07,341.93 71.24,342.20 71.41,342.05 71.59,341.95 71.76,342.43 71.93,342.07 72.10,342.25 72.28,342.41 72.45,342.32 72.62,342.19 72.79,342.31 72.97,342.34 73.14,342.49 73.31,342.09 73.48,342.37 73.66,342.19 73.83,342.21 74.00,342.52 74.17,342.37 74.35,342.41 74.52,342.54 74.69,342.64 74.86,342.36 75.04,342.47 75.21,342.41 75.38,342.43 75.56,342.54 75.73,342.41 75.90,342.46 76.07,342.44 76.25,342.72 76.42,342.59 76.59,342.70 76.76,342.75 76.94,342.35 77.11,342.53 77.28,342.77 77.45,342.72 77.63,342.30 77.80,342.30 77.97,342.50 78.14,342.29 78.32,342.40 78.49,342.30 78.66,342.67 78.83,342.75 79.01,342.82 79.18,342.38 79.35,342.73 79.53,342.70 79.70,342.40 79.87,342.85 80.04,342.91 80.22,342.47 80.39,342.92 80.56,342.59 80.73,342.65 80.91,342.96 81.08,342.88 81.25,342.48 81.42,342.65 81.60,342.71 81.77,342.61 81.94,342.53 82.11,342.62 82.29,342.87 82.46,342.45 82.63,342.78 82.80,342.72 82.98,342.47 83.15,342.67 83.32,342.85 83.49,342.79 83.67,342.53 83.84,343.09 84.01,342.98 84.19,343.10 84.36,342.59 84.53,342.69 84.70,342.57 84.88,343.02 85.05,342.72 85.22,342.64 85.39,342.83 85.57,343.13 85.74,343.08 85.91,342.75 86.08,342.69 86.26,343.16 86.43,342.96 86.60,343.05 86.77,342.69 86.95,342.68 87.12,343.06 87.29,342.91 87.46,342.71 87.64,343.24 87.81,343.06 87.98,343.17 88.16,342.75 88.33,343.22 88.50,342.75 88.67,343.24 88.85,343.00 89.02,342.94 89.19,343.07 89.36,343.31 89.54,342.92 89.71,342.84 89.88,343.08 90.05,342.92 90.23,342.84 90.40,342.87 90.57,342.83 90.74,342.93 90.92,343.00 91.09,342.99 91.26,343.23 91.43,342.87 91.61,342.83 91.78,342.34 91.95,341.92 92.12,340.94 92.30,340.12 92.47,339.27 92.64,339.73 92.82,340.39 92.99,341.19 93.16,342.20 93.33,343.05 93.51,342.92 93.68,343.56 93.85,343.47 94.02,343.60 94.20,343.87 94.37,343.66 94.54,343.77 94.71,343.92 94.89,344.13 95.06,343.78 95.23,344.10 95.40,344.05 95.58,344.02 95.75,343.89 95.92,343.85 96.09,343.64 96.27,343.61 96.44,343.39 96.61,343.41 96.79,342.41 96.96,341.21 97.13,339.84 97.30,339.67 97.48,340.37 97.65,341.62 97.82,342.58 97.99,343.31 98.17,343.75 98.34,344.06 98.51,343.97 98.68,344.15 98.86,343.95 99.03,344.17 99.20,343.78 99.37,342.81 99.55,341.47 99.72,340.31 99.89,338.32 100.06,337.66 100.24,338.19 100.41,340.08 100.58,341.80 100.75,343.04 100.93,343.63 101.10,344.28 101.27,344.27 101.45,344.60 101.62,344.61 101.79,344.88 101.96,344.73 102.14,344.77 102.31,344.98 102.48,344.97 102.65,345.22 102.83,345.22 103.00,345.39 103.17,345.36 103.34,345.43 103.52,345.56 103.69,345.29 103.86,345.29 104.03,345.71 104.21,345.24 104.38,345.62 104.55,345.60 104.72,345.27 104.90,345.77 105.07,345.83 105.24,345.71 105.42,345.80 105.59,345.88 105.76,345.51 105.93,345.77 106.11,345.79 106.28,346.02 106.45,346.03 106.62,346.08 106.80,345.96 106.97,346.18 107.14,346.08 107.31,346.12 107.49,345.87 107.66,345.79 107.83,345.88 108.00,346.05 108.18,345.92 108.35,346.39 108.52,346.26 108.69,346.33 108.87,346.36 109.04,346.42 109.21,346.34 109.38,346.08 109.56,346.59 109.73,346.59 109.90,346.47 110.08,346.52 110.25,346.63 110.42,346.30 110.59,346.74 110.77,346.48 110.94,346.40 111.11,346.55 111.28,346.86 111.46,346.57 111.63,346.93 111.80,347.10 111.97,346.84 112.15,346.81 112.32,346.89 112.49,347.05 112.66,347.13 112.84,347.07 113.01,347.12 113.18,346.81 113.35,346.88 113.53,346.98 113.70,347.30 113.87,347.07 114.05,347.26 114.22,346.96 114.39,347.02 114.56,347.17 114.74,347.45 114.91,347.49 115.08,347.51 115.25,347.31 115.43,347.48 115.60,347.48 115.77,347.51 115.94,347.33 116.12,347.83 116.29,347.44 116.46,347.94 116.63,347.95 116.81,347.43 116.98,347.72 117.15,347.97 117.32,348.09 117.50,347.81 117.67,347.73 117.84,347.73 118.01,348.20 118.19,347.79 118.36,348.04 118.53,347.81 118.71,348.07 118.88,348.36 119.05,347.90 119.22,348.34 119.40,348.19 119.57,348.45 119.74,348.37 119.91,348.11 120.09,348.55 120.26,348.33 120.43,348.08 120.60,348.10 120.78,348.40 120.95,348.38 121.12,348.29 121.29,348.19 121.47,348.32 121.64,348.30 121.81,348.62 121.98,348.12 122.16,348.57 122.33,348.63 122.50,348.20 122.68,348.69 122.85,348.56 123.02,348.67 123.19,348.31 123.37,348.36 123.54,348.37 123.71,348.74 123.88,348.50 124.06,348.36 124.23,348.40 124.40,348.31 124.57,348.17 124.75,348.19 124.92,348.62 125.09,348.28 125.26,348.65 125.44,348.20 125.61,348.14 125.78,348.19 125.95,347.84 126.13,347.69 126.30,347.62 126.47,346.96 126.64,346.08 126.82,345.08 126.99,344.63 127.16,344.65 127.34,345.04 127.51,346.04 127.68,346.48 127.85,347.51 128.03,347.76 128.20,348.21 128.37,348.31 128.54,348.20 128.72,348.12 128.89,348.69 129.06,348.24 129.23,348.47 129.41,348.40 129.58,348.39 129.75,348.66 129.92,348.81 130.10,348.38 130.27,348.62 130.44,348.41 130.61,348.56 130.79,348.46 130.96,348.32 131.13,348.31 131.31,348.33 131.48,348.73 131.65,348.45 131.82,348.23 132.00,348.56 132.17,348.47 132.34,347.90 132.51,347.30 132.69,346.62 132.86,345.33 133.03,343.53 133.20,340.70 133.38,338.11 133.55,336.94 133.72,338.32 133.89,341.18 134.07,343.78 134.24,345.54 134.41,346.77 134.58,347.56 134.76,347.88 134.93,348.10 135.10,348.08 135.27,348.29 135.45,348.75 135.62,348.27 135.79,348.50 135.97,348.56 136.14,348.66 136.31,348.19 136.48,348.05 136.66,347.73 136.83,347.22 137.00,346.16 137.17,344.74 137.35,342.68 137.52,341.70 137.69,342.08 137.86,343.98 138.04,345.97 138.21,346.97 138.38,347.03 138.55,346.97 138.73,346.09 138.90,345.31 139.07,343.89 139.24,340.99 139.42,336.58 139.59,330.32 139.76,322.14 139.94,315.06 140.11,312.12 140.28,315.11 140.45,321.98 140.63,329.58 140.80,335.39 140.97,339.21 141.14,341.28 141.32,341.57 141.49,340.73 141.66,338.07 141.83,334.49 142.01,328.30 142.18,321.41 142.35,313.96 142.52,309.05 142.70,309.01 142.87,313.92 143.04,321.58 143.21,329.14 143.39,334.94 143.56,339.40 143.73,342.72 143.90,344.76 144.08,345.96 144.25,346.72 144.42,347.52 144.60,347.55 144.77,347.98 144.94,348.26 145.11,348.68 145.29,348.59 145.46,348.80 145.63,348.60 145.80,348.49 145.98,348.53 146.15,348.98 146.32,348.84 146.49,348.62 146.67,348.46 146.84,348.76 147.01,348.87 147.18,348.73 147.36,348.63 147.53,348.89 147.70,349.05 147.87,348.64 148.05,348.53 148.22,348.72 148.39,348.77 148.57,348.93 148.74,348.65 148.91,349.01 149.08,348.98 149.26,348.85 149.43,348.67 149.60,349.14 149.77,348.75 149.95,349.06 150.12,348.71 150.29,348.71 150.46,349.04 150.64,348.76 150.81,349.16 150.98,348.89 151.15,348.71 151.33,348.73 151.50,348.85 151.67,349.00 151.84,349.17 152.02,348.68 152.19,348.82 152.36,348.68 152.53,349.07 152.71,348.45 152.88,348.17 153.05,347.81 153.23,347.60 153.40,347.70 153.57,347.90 153.74,348.24 153.92,348.77 154.09,348.96 154.26,348.73 154.43,348.71 154.61,349.20 154.78,349.11 154.95,348.70 155.12,349.09 155.30,348.93 155.47,348.93 155.64,348.91 155.81,348.82 155.99,348.73 156.16,348.90 156.33,348.94 156.50,349.31 156.68,348.81 156.85,349.32 157.02,348.87 157.20,348.96 157.37,349.24 157.54,349.23 157.71,348.99 157.89,348.74 158.06,348.96 158.23,348.84 158.40,349.07 158.58,348.45 158.75,348.24 158.92,348.05 159.09,346.83 159.27,346.37 159.44,346.31 159.61,346.59 159.78,346.86 159.96,347.56 160.13,348.09 160.30,348.93 160.47,348.72 160.65,349.13 160.82,349.29 160.99,348.99 161.16,348.98 161.34,349.41 161.51,349.22 161.68,349.01 161.86,349.29 162.03,349.05 162.20,349.03 162.37,348.86 162.55,349.31 162.72,349.39 162.89,349.19 163.06,349.33 163.24,348.70 163.41,348.69 163.58,348.59 163.75,348.46 163.93,347.73 164.10,346.24 164.27,344.58 164.44,343.11 164.62,342.45 164.79,343.42 164.96,344.56 165.13,346.52 165.31,347.64 165.48,348.42 165.65,348.82 165.83,348.97 166.00,348.96 166.17,349.04 166.34,349.12 166.52,349.41 166.69,349.01 166.86,349.10 167.03,349.45 167.21,349.16 167.38,349.06 167.55,349.05 167.72,349.36 167.90,349.23 168.07,349.63 168.24,349.58 168.41,349.65 168.59,349.22 168.76,349.12 168.93,349.13 169.10,349.37 169.28,349.51 169.45,349.35 169.62,349.23 169.79,349.34 169.97,349.47 170.14,349.51 170.31,349.56 170.49,349.62 170.66,349.52 170.83,349.19 171.00,349.63 171.18,349.31 171.35,349.48 171.52,349.36 171.69,349.59 171.87,349.27 172.04,349.30 172.21,349.31 172.38,349.25 172.56,349.70 172.73,349.52 172.90,349.37 173.07,349.42 173.25,349.78 173.42,349.49 173.59,349.33 173.76,349.68 173.94,349.60 174.11,349.80 174.28,349.27 174.46,349.50 174.63,349.71 174.80,349.73 174.97,349.78 175.15,349.26 175.32,349.42 175.49,349.32 175.66,349.36 175.84,349.84 176.01,349.61 176.18,349.82 176.35,349.49 176.53,349.79 176.70,349.55 176.87,349.44 177.04,349.75 177.22,349.86 177.39,349.36 177.56,349.66 177.73,349.67 177.91,349.43 178.08,349.53 178.25,349.39 178.42,349.43 178.60,349.47 178.77,349.67 178.94,349.71 179.12,349.44 179.29,349.33 179.46,349.52 179.63,349.73 179.81,349.44 179.98,349.52 180.15,349.45 180.32,349.81 180.50,349.67 180.67,349.38 180.84,349.40 181.01,349.58 181.19,349.68 181.36,349.73 181.53,349.40 181.70,349.45 181.88,349.77 182.05,349.60 182.22,349.53 182.39,349.55 182.57,349.93 182.74,349.55 182.91,349.71 183.09,349.58 183.26,349.62 183.43,349.89 183.60,349.97 183.78,349.60 183.95,349.50 184.12,349.82 184.29,349.51 184.47,349.39 184.64,349.93 184.81,349.65 184.98,349.89 185.16,349.64 185.33,349.93 185.50,349.68 185.67,349.50 185.85,349.41 186.02,349.74 186.19,349.79 186.36,349.96 186.54,349.47 186.71,349.79 186.88,349.64 187.05,349.72 187.23,349.51 187.40,349.59 187.57,349.74 187.75,349.98 187.92,349.49 188.09,349.72 188.26,349.91 188.44,350.01 188.61,349.55 188.78,349.51 188.95,349.99 189.13,350.00 189.30,349.69 189.47,349.40 189.64,349.86 189.82,349.41 189.99,349.49 190.16,348.96 190.33,348.66 190.51,348.06 190.68,348.64 190.85,348.73 191.02,349.21 191.20,349.70 191.37,349.82 191.54,349.50 191.72,349.56 191.89,349.69 192.06,349.78 192.23,349.70 192.41,349.55 192.58,349.63 192.75,349.92 192.92,350.03 193.10,349.52 193.27,349.83 193.44,349.95 193.61,349.52 193.79,350.01 193.96,349.58 194.13,349.87 194.30,349.84 194.48,349.89 194.65,349.70 194.82,349.77 194.99,349.87 195.17,349.78 195.34,349.92 195.51,349.79 195.68,349.79 195.86,349.54 196.03,349.90 196.20,349.83 196.38,349.68 196.55,350.00 196.72,350.01 196.89,349.82 197.07,349.65 197.24,349.83 197.41,349.61 197.58,349.63 197.76,349.81 197.93,349.61 198.10,349.82 198.27,349.87 198.45,349.59 198.62,349.95 198.79,349.62 198.96,350.01 199.14,350.04 199.31,349.88 199.48,349.61 199.65,349.88 199.83,349.80 200.00,350.15 200.17,349.66 200.35,350.09 200.52,350.17 200.69,350.01 200.86,350.05 201.04,349.66 201.21,350.10 201.38,349.76 201.55,349.95 201.73,349.77 201.90,349.05 202.07,349.00 202.24,348.51 202.42,347.41 202.59,347.33 202.76,347.83 202.93,348.05 203.11,349.08 203.28,349.13 203.45,349.73 203.62,349.48 203.80,349.79 203.97,350.10 204.14,349.70 204.31,349.76 204.49,349.92 204.66,349.81 204.83,349.65 205.01,349.74 205.18,349.74 205.35,350.20 205.52,350.05 205.70,350.18 205.87,349.75 206.04,350.12 206.21,349.72 206.39,349.97 206.56,350.03 206.73,349.86 206.90,350.16 207.08,349.96 207.25,349.96 207.42,350.12 207.59,349.62 207.77,350.09 207.94,349.78 208.11,349.49 208.28,349.49 208.46,348.76 208.63,348.52 208.80,347.16 208.98,345.36 209.15,343.46 209.32,341.23 209.49,340.21 209.67,341.42 209.84,343.04 210.01,345.65 210.18,346.98 210.36,348.33 210.53,349.22 210.70,349.40 210.87,349.69 211.05,349.63 211.22,349.54 211.39,349.62 211.56,349.73 211.74,350.04 211.91,349.95 212.08,350.01 212.25,350.25 212.43,349.80 212.60,349.86 212.77,350.12 212.94,349.75 213.12,349.74 213.29,349.96 213.46,349.81 213.64,349.96 213.81,349.89 213.98,350.11 214.15,350.11 214.33,349.88 214.50,350.14 214.67,350.05 214.84,349.85 215.02,350.33 215.19,349.92 215.36,349.86 215.53,349.84 215.71,350.16 215.88,350.30 216.05,350.25 216.22,350.03 216.40,349.95 216.57,349.80 216.74,350.18 216.91,350.13 217.09,350.01 217.26,350.19 217.43,350.07 217.61,350.36 217.78,350.24 217.95,349.95 218.12,350.35 218.30,349.83 218.47,350.13 218.64,350.05 218.81,349.95 218.99,349.84 219.16,350.28 219.33,349.82 219.50,350.14 219.68,350.38 219.85,349.90 220.02,349.94 220.19,350.18 220.37,350.12 220.54,350.20 220.71,350.31 220.88,349.93 221.06,350.01 221.23,350.00 221.40,349.85 221.57,350.36 221.75,350.30 221.92,350.26 222.09,349.83 222.27,350.34 222.44,350.28 222.61,350.11 222.78,350.28 222.96,350.10 223.13,349.97 223.30,349.90 223.47,349.97 223.65,349.85 223.82,350.03 223.99,350.28 224.16,350.24 224.34,350.32 224.51,350.23 224.68,349.94 224.85,350.07 225.03,349.92 225.20,350.01 225.37,349.64 225.54,349.21 225.72,349.16 225.89,349.23 226.06,348.90 226.24,349.58 226.41,349.34 226.58,349.70 226.75,349.81 226.93,350.19 227.10,350.36 227.27,350.26 227.44,350.03 227.62,350.37 227.79,350.05 227.96,350.00 228.13,350.40 228.31,350.24 228.48,350.28 228.65,350.26 228.82,350.45 229.00,350.15 229.17,350.37 229.34,350.29 229.51,350.38 229.69,350.13 229.86,350.31 230.03,350.22 230.20,350.06 230.38,350.00 230.55,350.25 230.72,349.92 230.90,350.42 231.07,349.97 231.24,349.90 231.41,349.94 231.59,350.44 231.76,350.09 231.93,349.97 232.10,349.90 232.28,349.91 232.45,350.30 232.62,350.26 232.79,350.30 232.97,350.32 233.14,349.92 233.31,350.23 233.48,350.09 233.66,350.36 233.83,350.35 234.00,350.37 234.17,349.85 234.35,350.29 234.52,350.25 234.69,350.16 234.87,349.49 235.04,349.27 235.21,348.80 235.38,348.19 235.56,348.08 235.73,347.65 235.90,347.54 236.07,348.07 236.25,348.55 236.42,348.90 236.59,349.21 236.76,349.48 236.94,350.05 237.11,349.82 237.28,349.94 237.45,350.03 237.63,349.77 237.80,349.87 237.97,349.78 238.14,349.86 238.32,349.35 238.49,348.91 238.66,348.88 238.83,348.42 239.01,348.82 239.18,349.10 239.35,349.17 239.53,349.70 239.70,349.91 239.87,350.23 240.04,350.04 240.22,350.29 240.39,350.21 240.56,350.04 240.73,350.43 240.91,349.97 241.08,350.41 241.25,350.02 241.42,349.92 241.60,350.03 241.77,350.36 241.94,350.46 242.11,349.83 242.29,350.05 242.46,349.93 242.63,349.91 242.80,349.26 242.98,349.17 243.15,348.96 243.32,349.37 243.50,349.31 243.67,350.00 243.84,349.81 244.01,349.90 244.19,350.27 244.36,350.19 244.53,349.98 244.70,350.31 244.88,349.99 245.05,350.42 245.22,350.37 245.39,350.43 245.57,350.34 245.74,350.18 245.91,350.20 246.08,350.20 246.26,350.50 246.43,350.02 246.60,350.50 246.77,349.98 246.95,350.09 247.12,350.13 247.29,350.51 247.46,350.27 247.64,350.20 247.81,350.51 247.98,350.12 248.16,350.25 248.33,350.29 248.50,350.43 248.67,350.43 248.85,350.36 249.02,350.18 249.19,350.15 249.36,350.04 249.54,350.43 249.71,350.28 249.88,350.27 250.05,349.81 250.23,349.78 250.40,349.68 250.57,349.14 250.74,348.45 250.92,348.47 251.09,348.91 251.26,348.94 251.43,349.34 251.61,349.71 251.78,350.14 251.95,350.34 252.13,349.99 252.30,350.03 252.47,350.11 252.64,350.17 252.82,350.30 252.99,350.09 253.16,350.19 253.33,350.11 253.51,350.59 253.68,350.44 253.85,350.06 254.02,350.58 254.20,350.06 254.37,350.22 254.54,350.57 254.71,350.44 254.89,350.37 255.06,350.14 255.23,349.90 255.40,350.01 255.58,349.44 255.75,349.15 255.92,348.91 256.09,348.54 256.27,348.92 256.44,349.50 256.61,349.79 256.79,349.93 256.96,350.17 257.13,350.16 257.30,350.02 257.48,350.33 257.65,350.22 257.82,350.42 257.99,350.51 258.17,350.19 258.34,350.23 258.51,350.24 258.68,349.89 258.86,349.49 259.03,349.35 259.20,348.84 259.37,348.17 259.55,347.86 259.72,348.22 259.89,348.72 260.06,349.31 260.24,349.64 260.41,349.83 260.58,350.18 260.76,349.95 260.93,350.20 261.10,350.44 261.27,350.40 261.45,350.35 261.62,350.09 261.79,350.14 261.96,350.07 262.14,349.99 262.31,349.57 262.48,349.25 262.65,348.76 262.83,347.66 263.00,347.66 263.17,348.02 263.34,348.44 263.52,349.15 263.69,349.92 263.86,349.66 264.03,350.14 264.21,350.01 264.38,350.44 264.55,350.57 264.72,350.34 264.90,350.10 265.07,350.40 265.24,350.38 265.42,350.49 265.59,350.37 265.76,350.44 265.93,350.55 266.11,350.35 266.28,350.27 266.45,350.57 266.62,350.09 266.80,350.32 266.97,350.05 267.14,350.11 267.31,349.48 267.49,349.60 267.66,348.66 267.83,347.80 268.00,347.31 268.18,347.13 268.35,347.16 268.52,348.02 268.69,348.71 268.87,349.44 269.04,349.62 269.21,349.83 269.39,349.96 269.56,350.37 269.73,350.55 269.90,350.34 270.08,350.18 270.25,350.55 270.42,350.32 270.59,350.22 270.77,350.17 270.94,350.57 271.11,350.59 271.28,350.49 271.46,350.39 271.63,350.45 271.80,350.25 271.97,350.69 272.15,350.33 272.32,350.50 272.49,350.61 272.66,350.60 272.84,350.40 273.01,350.29 273.18,350.44 273.35,350.19 273.53,350.61 273.70,350.31 273.87,350.60 274.05,350.24 274.22,350.28 274.39,350.17 274.56,350.22 274.74,349.99 274.91,349.73 275.08,349.92 275.25,349.29 275.43,348.74 275.60,348.14 275.77,347.67 275.94,347.40 276.12,347.76 276.29,348.36 276.46,348.82 276.63,349.69 276.81,350.01 276.98,349.77 277.15,350.38 277.32,350.52 277.50,350.51 277.67,350.16 277.84,350.60 278.02,350.49 278.19,350.13 278.36,350.14 278.53,350.71 278.71,350.53 278.88,350.29 279.05,350.20 279.22,350.23 279.40,350.28 279.57,350.60 279.74,350.34 279.91,350.21 280.09,350.65 280.26,350.56 280.43,350.15 280.60,350.52 280.78,350.26 280.95,350.20 281.12,349.88 281.29,349.63 281.47,349.00 281.64,348.35 281.81,347.35 281.98,347.39 282.16,347.55 282.33,348.30 282.50,348.80 282.68,349.63 282.85,349.83 283.02,349.91 283.19,350.05 283.37,350.09 283.54,350.36 283.71,350.14 283.88,350.41 284.06,350.24 284.23,350.46 284.40,350.47 284.57,350.50 284.75,350.70 284.92,350.19 285.09,350.69 285.26,350.47 285.44,350.53 285.61,350.59 285.78,350.70 285.95,350.42 286.13,350.45 286.30,350.77" fill="none" stroke="#505556" stroke-width="1.9" stroke-linejoin="round" stroke-linecap="round" />
<polyline points="27.40,311.05 27.57,311.37 27.75,311.36 27.92,310.98 28.09,311.32 28.26,311.35 28.44,311.49 28.61,311.12 28.78,311.50 28.95,311.20 29.13,311.17 29.30,311.41 29.47,310.88 29.64,311.28 29.82,311.21 29.99,311.03 30.16,311.33 30.33,311.02 30.51,311.07 30.68,311.09 30.85,311.23 31.02,310.88 31.20,311.00 31.37,310.99 31.54,311.05 31.71,311.20 31.89,310.87 32.06,311.18 32.23,310.92 32.41,310.96 32.58,310.81 32.75,310.94 32.92,311.21 33.10,311.01 33.27,311.08 33.44,310.79 33.61,310.77 33.79,310.75 33.96,310.91 34.13,310.93 34.30,311.00 34.48,310.55 34.65,310.94 34.82,311.03 34.99,310.81 35.17,310.50 35.34,310.64 35.51,310.46 35.68,310.55 35.86,310.98 36.03,310.78 36.20,310.80 36.38,310.87 36.55,310.93 36.72,310.74 36.89,310.73 37.07,310.72 37.24,310.75 37.41,310.68 37.58,310.72 37.76,310.43 37.93,310.69 38.10,310.55 38.27,310.72 38.45,310.31 38.62,310.35 38.79,310.25 38.96,310.68 39.14,310.76 39.31,310.59 39.48,310.40 39.65,310.67 39.83,310.63 40.00,310.49 40.17,310.29 40.34,310.31 40.52,310.37 40.69,310.29 40.86,310.35 41.04,310.46 41.21,310.63 41.38,310.09 41.55,310.38 41.73,310.06 41.90,310.09 42.07,310.49 42.24,310.34 42.42,310.54 42.59,310.24 42.76,309.97 42.93,310.18 43.11,310.29 43.28,310.49 43.45,310.50 43.62,310.19 43.80,310.14 43.97,309.94 44.14,310.25 44.31,309.98 44.49,309.94 44.66,309.84 44.83,309.82 45.01,310.22 45.18,309.87 45.35,310.37 45.52,309.83 45.70,310.28 45.87,309.83 46.04,309.75 46.21,310.16 46.39,309.86 46.56,310.14 46.73,309.81 46.90,309.71 47.08,310.13 47.25,310.09 47.42,310.16 47.59,310.07 47.77,309.67 47.94,309.99 48.11,310.03 48.28,309.86 48.46,310.14 48.63,309.72 48.80,310.13 48.97,309.97 49.15,309.54 49.32,309.53 49.49,309.90 49.67,309.98 49.84,309.53 50.01,309.66 50.18,309.90 50.36,309.55 50.53,309.95 50.70,309.72 50.87,309.45 51.05,309.62 51.22,309.73 51.39,309.64 51.56,309.77 51.74,309.44 51.91,309.82 52.08,309.55 52.25,309.70 52.43,309.68 52.60,309.54 52.77,309.51 52.94,309.74 53.12,309.82 53.29,309.71 53.46,309.57 53.64,309.39 53.81,309.24 53.98,309.77 54.15,309.59 54.33,309.65 54.50,309.34 54.67,309.48 54.84,309.69 55.02,309.58 55.19,309.41 55.36,309.20 55.53,309.24 55.71,309.47 55.88,309.10 56.05,309.20 56.22,309.04 56.40,309.05 56.57,308.77 56.74,308.12 56.91,307.43 57.09,306.80 57.26,305.66 57.43,303.82 57.60,300.97 57.78,296.57 57.95,290.02 58.12,283.46 58.30,277.36 58.47,274.92 58.64,277.22 58.81,283.11 58.99,290.49 59.16,296.50 59.33,300.86 59.50,303.98 59.68,305.57 59.85,306.65 60.02,307.72 60.19,308.37 60.37,308.35 60.54,308.90 60.71,309.17 60.88,308.86 61.06,309.16 61.23,309.26 61.40,309.17 61.57,309.05 61.75,309.10 61.92,309.42 62.09,309.47 62.27,309.28 62.44,309.07 62.61,309.52 62.78,309.51 62.96,309.19 63.13,309.41 63.30,309.61 63.47,309.61 63.65,309.40 63.82,309.38 63.99,309.45 64.16,309.22 64.34,309.23 64.51,309.23 64.68,309.55 64.85,309.35 65.03,309.48 65.20,309.39 65.37,309.47 65.54,309.25 65.72,309.20 65.89,309.78 66.06,309.41 66.23,309.25 66.41,309.58 66.58,309.68 66.75,309.30 66.93,309.57 67.10,309.43 67.27,309.54 67.44,309.25 67.62,309.26 67.79,309.84 67.96,309.78 68.13,309.55 68.31,309.61 68.48,309.43 68.65,309.75 68.82,309.54 69.00,309.86 69.17,309.76 69.34,309.80 69.51,309.89 69.69,309.47 69.86,309.35 70.03,309.45 70.20,309.45 70.38,309.40 70.55,309.38 70.72,309.69 70.90,309.89 71.07,309.65 71.24,309.95 71.41,309.93 71.59,309.43 71.76,309.76 71.93,309.64 72.10,309.48 72.28,309.99 72.45,309.58 72.62,309.77 72.79,309.82 72.97,310.02 73.14,309.85 73.31,309.69 73.48,309.73 73.66,309.57 73.83,310.06 74.00,310.08 74.17,309.62 74.35,309.52 74.52,309.66 74.69,309.72 74.86,310.06 75.04,310.06 75.21,310.03 75.38,309.56 75.56,310.01 75.73,309.97 75.90,309.94 76.07,310.15 76.25,309.60 76.42,309.66 76.59,310.03 76.76,310.15 76.94,310.00 77.11,309.78 77.28,309.96 77.45,310.07 77.63,309.68 77.80,309.82 77.97,309.79 78.14,309.71 78.32,309.93 78.49,309.75 78.66,309.80 78.83,309.75 79.01,310.08 79.18,309.68 79.35,310.11 79.53,309.81 79.70,309.72 79.87,310.26 80.04,309.84 80.22,310.28 80.39,310.24 80.56,310.26 80.73,309.82 80.91,310.01 81.08,309.81 81.25,310.31 81.42,310.27 81.60,310.14 81.77,310.04 81.94,309.98 82.11,310.28 82.29,310.08 82.46,310.18 82.63,309.89 82.80,309.95 82.98,309.85 83.15,310.25 83.32,310.16 83.49,309.93 83.67,310.37 83.84,310.01 84.01,310.10 84.19,309.96 84.36,310.03 84.53,310.38 84.70,310.08 84.88,309.99 85.05,310.19 85.22,310.09 85.39,310.45 85.57,309.98 85.74,310.51 85.91,309.96 86.08,310.47 86.26,310.34 86.43,310.07 86.60,310.24 86.77,310.13 86.95,310.12 87.12,310.09 87.29,310.20 87.46,310.58 87.64,310.59 87.81,310.55 87.98,310.09 88.16,310.23 88.33,310.62 88.50,310.15 88.67,310.58 88.85,310.35 89.02,310.79 89.19,310.24 89.36,310.74 89.54,310.49 89.71,310.40 89.88,310.34 90.05,310.86 90.23,310.71 90.40,310.53 90.57,310.70 90.74,311.00 90.92,310.60 91.09,310.81 91.26,310.54 91.43,310.53 91.61,310.81 91.78,310.62 91.95,310.03 92.12,309.46 92.30,308.58 92.47,307.48 92.64,305.46 92.82,303.38 92.99,302.49 93.16,303.64 93.33,305.70 93.51,307.77 93.68,309.11 93.85,309.82 94.02,310.30 94.20,311.04 94.37,311.05 94.54,311.37 94.71,311.06 94.89,311.58 95.06,311.35 95.23,311.69 95.40,311.73 95.58,311.53 95.75,311.25 95.92,311.77 96.09,311.46 96.27,311.57 96.44,310.95 96.61,310.38 96.79,309.80 96.96,307.96 97.13,306.04 97.30,305.30 97.48,306.34 97.65,307.84 97.82,309.76 97.99,310.72 98.17,311.31 98.34,311.36 98.51,311.83 98.68,311.90 98.86,311.82 99.03,311.25 99.20,310.99 99.37,309.93 99.55,308.74 99.72,306.38 99.89,304.92 100.06,304.13 100.24,304.76 100.41,306.77 100.58,308.79 100.75,310.27 100.93,310.90 101.10,312.03 101.27,311.92 101.45,312.11 101.62,312.19 101.79,312.38 101.96,312.78 102.14,312.37 102.31,312.45 102.48,312.86 102.65,312.59 102.83,312.52 103.00,312.90 103.17,312.92 103.34,312.92 103.52,313.05 103.69,312.73 103.86,313.22 104.03,313.15 104.21,312.78 104.38,312.86 104.55,313.11 104.72,313.14 104.90,313.04 105.07,312.97 105.24,313.16 105.42,313.01 105.59,313.30 105.76,313.48 105.93,313.07 106.11,313.34 106.28,313.46 106.45,313.13 106.62,313.54 106.80,313.62 106.97,313.31 107.14,313.34 107.31,313.61 107.49,313.44 107.66,313.38 107.83,313.72 108.00,313.64 108.18,313.39 108.35,313.35 108.52,313.42 108.69,313.50 108.87,313.84 109.04,313.75 109.21,313.83 109.38,313.79 109.56,313.82 109.73,313.36 109.90,313.66 110.08,313.94 110.25,313.94 110.42,313.55 110.59,313.67 110.77,313.81 110.94,313.66 111.11,313.78 111.28,313.52 111.46,313.75 111.63,313.81 111.80,313.54 111.97,313.62 112.15,314.14 112.32,314.04 112.49,314.15 112.66,313.98 112.84,314.11 113.01,314.17 113.18,314.18 113.35,313.69 113.53,314.07 113.70,313.86 113.87,314.12 114.05,313.90 114.22,314.07 114.39,314.32 114.56,314.15 114.74,313.95 114.91,314.12 115.08,314.09 115.25,314.41 115.43,314.03 115.60,314.06 115.77,314.28 115.94,313.98 116.12,314.28 116.29,314.51 116.46,314.26 116.63,314.13 116.81,314.27 116.98,314.32 117.15,314.11 117.32,314.11 117.50,314.13 117.67,314.24 117.84,314.33 118.01,314.27 118.19,314.26 118.36,314.18 118.53,314.48 118.71,314.67 118.88,314.55 119.05,314.54 119.22,314.60 119.40,314.35 119.57,314.67 119.74,314.54 119.91,314.60 120.09,314.66 120.26,314.59 120.43,314.51 120.60,314.49 120.78,314.49 120.95,314.68 121.12,314.62 121.29,314.75 121.47,314.43 121.64,314.65 121.81,314.97 121.98,314.61 122.16,314.82 122.33,314.79 122.50,314.67 122.68,315.10 122.85,314.68 123.02,314.97 123.19,314.61 123.37,314.55 123.54,315.04 123.71,314.78 123.88,314.56 124.06,314.75 124.23,314.79 124.40,314.96 124.57,314.59 124.75,314.66 124.92,315.10 125.09,314.96 125.26,314.60 125.44,314.70 125.61,314.68 125.78,314.84 125.95,314.75 126.13,314.79 126.30,314.61 126.47,314.14 126.64,313.77 126.82,312.92 126.99,311.57 127.16,309.54 127.34,307.87 127.51,307.00 127.68,307.95 127.85,309.34 128.03,311.66 128.20,312.50 128.37,313.81 128.54,314.21 128.72,314.45 128.89,314.90 129.06,314.76 129.23,314.73 129.41,314.99 129.58,315.07 129.75,314.93 129.92,314.80 130.10,314.85 130.27,314.85 130.44,315.00 130.61,314.73 130.79,314.76 130.96,314.82 131.13,314.65 131.31,314.50 131.48,314.58 131.65,314.27 131.82,313.47 132.00,312.43 132.17,310.66 132.34,308.52 132.51,306.21 132.69,305.50 132.86,306.48 133.03,308.39 133.20,311.11 133.38,312.37 133.55,313.70 133.72,314.29 133.89,314.71 134.07,314.45 134.24,314.70 134.41,315.06 134.58,314.57 134.76,314.61 134.93,314.93 135.10,314.89 135.27,315.14 135.45,315.04 135.62,314.86 135.79,315.09 135.97,314.71 136.14,314.57 136.31,314.44 136.48,313.86 136.66,313.15 136.83,312.16 137.00,310.33 137.17,308.66 137.35,306.93 137.52,306.72 137.69,307.77 137.86,309.68 138.04,311.01 138.21,311.73 138.38,311.74 138.55,311.34 138.73,310.20 138.90,307.98 139.07,305.05 139.24,301.02 139.42,295.69 139.59,288.52 139.76,281.54 139.94,276.02 140.11,273.20 140.28,274.96 140.45,280.21 140.63,286.21 140.80,291.50 140.97,295.09 141.14,297.33 141.32,296.80 141.49,294.19 141.66,289.09 141.83,281.02 142.01,269.74 142.18,255.98 142.35,241.34 142.52,228.45 142.70,220.70 142.87,220.63 143.04,228.61 143.21,242.19 143.39,257.26 143.56,271.19 143.73,283.24 143.90,292.00 144.08,298.23 144.25,303.17 144.42,306.74 144.60,308.80 144.77,310.70 144.94,311.47 145.11,312.50 145.29,313.44 145.46,313.74 145.63,314.12 145.80,314.09 145.98,314.46 146.15,314.64 146.32,314.58 146.49,314.89 146.67,314.90 146.84,315.23 147.01,315.02 147.18,314.96 147.36,314.82 147.53,314.86 147.70,315.25 147.87,314.87 148.05,314.88 148.22,314.94 148.39,315.17 148.57,315.36 148.74,315.25 148.91,315.38 149.08,314.94 149.26,314.92 149.43,315.39 149.60,315.13 149.77,315.37 149.95,315.17 150.12,315.06 150.29,315.13 150.46,315.04 150.64,315.53 150.81,315.35 150.98,315.21 151.15,315.28 151.33,315.25 151.50,315.05 151.67,315.56 151.84,315.37 152.02,315.59 152.19,315.26 152.36,315.33 152.53,315.03 152.71,314.74 152.88,314.97 153.05,314.45 153.23,313.57 153.40,313.65 153.57,313.88 153.74,314.15 153.92,314.82 154.09,315.35 154.26,315.25 154.43,315.62 154.61,315.25 154.78,315.37 154.95,315.59 155.12,315.30 155.30,315.37 155.47,315.72 155.64,315.49 155.81,315.69 155.99,315.36 156.16,315.33 156.33,315.45 156.50,315.35 156.68,315.82 156.85,315.42 157.02,315.58 157.20,315.31 157.37,315.56 157.54,315.46 157.71,315.44 157.89,315.20 158.06,315.16 158.23,315.45 158.40,314.94 158.58,314.47 158.75,313.76 158.92,312.71 159.09,311.18 159.27,309.55 159.44,309.27 159.61,309.75 159.78,311.16 159.96,313.01 160.13,313.75 160.30,314.56 160.47,315.31 160.65,315.13 160.82,315.47 160.99,315.79 161.16,315.83 161.34,315.48 161.51,315.62 161.68,315.86 161.86,315.66 162.03,316.02 162.20,315.57 162.37,316.02 162.55,315.75 162.72,315.57 162.89,315.68 163.06,315.45 163.24,315.71 163.41,315.31 163.58,315.46 163.75,314.85 163.93,314.00 164.10,312.78 164.27,311.42 164.44,309.61 164.62,309.31 164.79,309.57 164.96,311.39 165.13,313.00 165.31,314.00 165.48,315.03 165.65,315.24 165.83,315.65 166.00,315.75 166.17,315.69 166.34,315.79 166.52,315.65 166.69,315.73 166.86,316.16 167.03,315.86 167.21,316.07 167.38,315.75 167.55,316.04 167.72,315.93 167.90,316.02 168.07,315.90 168.24,315.77 168.41,315.93 168.59,315.89 168.76,315.83 168.93,316.20 169.10,315.94 169.28,316.02 169.45,316.33 169.62,316.26 169.79,316.33 169.97,316.33 170.14,315.90 170.31,315.99 170.49,315.85 170.66,316.25 170.83,316.24 171.00,316.06 171.18,316.11 171.35,316.26 171.52,316.29 171.69,316.03 171.87,316.40 172.04,316.11 172.21,316.28 172.38,316.02 172.56,315.99 172.73,316.47 172.90,316.37 173.07,316.37 173.25,315.97 173.42,315.98 173.59,316.06 173.76,316.09 173.94,316.16 174.11,316.21 174.28,316.01 174.46,316.18 174.63,316.39 174.80,316.12 174.97,316.52 175.15,316.37 175.32,316.46 175.49,316.19 175.66,316.31 175.84,316.47 176.01,316.27 176.18,316.07 176.35,316.58 176.53,316.55 176.70,316.26 176.87,316.12 177.04,316.62 177.22,316.48 177.39,316.15 177.56,316.27 177.73,316.20 177.91,316.62 178.08,316.28 178.25,316.71 178.42,316.61 178.60,316.22 178.77,316.60 178.94,316.42 179.12,316.64 179.29,316.70 179.46,316.37 179.63,316.26 179.81,316.78 179.98,316.47 180.15,316.77 180.32,316.63 180.50,316.67 180.67,316.72 180.84,316.61 181.01,316.50 181.19,316.27 181.36,316.66 181.53,316.50 181.70,316.55 181.88,316.80 182.05,316.33 182.22,316.71 182.39,316.28 182.57,316.68 182.74,316.75 182.91,316.42 183.09,316.60 183.26,316.85 183.43,316.66 183.60,316.61 183.78,316.43 183.95,316.32 184.12,316.50 184.29,316.54 184.47,316.42 184.64,316.48 184.81,316.38 184.98,316.73 185.16,316.71 185.33,316.45 185.50,316.46 185.67,316.63 185.85,316.59 186.02,316.89 186.19,316.54 186.36,316.51 186.54,316.86 186.71,316.42 186.88,316.68 187.05,316.54 187.23,316.84 187.40,316.68 187.57,316.81 187.75,316.46 187.92,316.76 188.09,316.72 188.26,316.64 188.44,316.83 188.61,316.87 188.78,316.44 188.95,316.55 189.13,316.59 189.30,316.50 189.47,316.42 189.64,316.55 189.82,316.50 189.99,316.80 190.16,316.63 190.33,316.40 190.51,316.48 190.68,316.47 190.85,316.23 191.02,315.82 191.20,315.43 191.37,315.23 191.54,315.98 191.72,316.18 191.89,316.08 192.06,316.64 192.23,316.91 192.41,316.71 192.58,316.47 192.75,316.72 192.92,316.70 193.10,316.56 193.27,316.78 193.44,316.46 193.61,317.01 193.79,316.85 193.96,316.85 194.13,317.03 194.30,316.87 194.48,316.63 194.65,316.63 194.82,316.57 194.99,316.51 195.17,316.96 195.34,317.00 195.51,316.68 195.68,316.61 195.86,316.89 196.03,317.02 196.20,317.07 196.38,316.62 196.55,316.99 196.72,317.02 196.89,316.97 197.07,316.72 197.24,316.64 197.41,317.03 197.58,316.73 197.76,316.76 197.93,316.87 198.10,316.77 198.27,317.05 198.45,316.70 198.62,316.58 198.79,316.90 198.96,316.94 199.14,317.06 199.31,316.99 199.48,317.11 199.65,317.14 199.83,316.87 200.00,316.88 200.17,316.68 200.35,316.77 200.52,316.94 200.69,316.64 200.86,317.01 201.04,316.69 201.21,316.86 201.38,317.18 201.55,316.65 201.73,316.62 201.90,316.85 202.07,316.68 202.24,316.97 202.42,316.49 202.59,316.90 202.76,316.75 202.93,316.46 203.11,315.90 203.28,315.47 203.45,315.54 203.62,315.61 203.80,315.91 203.97,316.21 204.14,316.53 204.31,316.83 204.49,317.02 204.66,317.13 204.83,316.72 205.01,316.82 205.18,316.92 205.35,317.00 205.52,316.88 205.70,316.80 205.87,316.73 206.04,316.88 206.21,316.97 206.39,317.28 206.56,317.24 206.73,317.22 206.90,317.29 207.08,317.28 207.25,317.08 207.42,317.19 207.59,316.74 207.77,317.11 207.94,317.07 208.11,316.87 208.28,317.03 208.46,317.24 208.63,316.92 208.80,316.97 208.98,316.67 209.15,316.54 209.32,316.60 209.49,315.61 209.67,314.91 209.84,313.93 210.01,312.05 210.18,310.09 210.36,309.67 210.53,310.27 210.70,312.14 210.87,313.80 211.05,315.14 211.22,315.97 211.39,316.34 211.56,316.45 211.74,316.65 211.91,317.17 212.08,317.02 212.25,316.80 212.43,317.28 212.60,316.93 212.77,316.85 212.94,317.12 213.12,316.96 213.29,317.11 213.46,317.15 213.64,316.96 213.81,317.18 213.98,316.90 214.15,317.15 214.33,317.20 214.50,316.90 214.67,317.10 214.84,316.90 215.02,317.12 215.19,317.38 215.36,317.19 215.53,317.30 215.71,317.32 215.88,316.94 216.05,317.47 216.22,317.31 216.40,316.94 216.57,317.39 216.74,317.13 216.91,317.00 217.09,317.47 217.26,317.24 217.43,317.37 217.61,316.98 217.78,317.37 217.95,316.94 218.12,317.05 218.30,317.13 218.47,316.92 218.64,317.27 218.81,317.04 218.99,317.09 219.16,317.34 219.33,317.17 219.50,317.45 219.68,317.29 219.85,317.43 220.02,317.25 220.19,317.45 220.37,317.41 220.54,316.97 220.71,317.27 220.88,316.95 221.06,317.05 221.23,316.75 221.40,316.56 221.57,316.00 221.75,316.29 221.92,316.79 222.09,317.17 222.27,317.18 222.44,316.86 222.61,317.24 222.78,316.97 222.96,317.25 223.13,317.41 223.30,317.00 223.47,317.49 223.65,317.34 223.82,317.09 223.99,317.05 224.16,317.20 224.34,317.42 224.51,317.25 224.68,316.94 224.85,316.83 225.03,316.79 225.20,317.05 225.37,316.42 225.54,316.30 225.72,315.79 225.89,315.87 226.06,315.85 226.24,316.05 226.41,316.84 226.58,316.90 226.75,317.15 226.93,317.32 227.10,317.46 227.27,316.93 227.44,317.15 227.62,317.04 227.79,317.26 227.96,317.49 228.13,317.45 228.31,317.00 228.48,317.09 228.65,317.47 228.82,317.39 229.00,317.22 229.17,317.27 229.34,317.08 229.51,317.49 229.69,317.22 229.86,317.51 230.03,317.36 230.20,317.04 230.38,317.19 230.55,317.12 230.72,317.53 230.90,317.35 231.07,317.02 231.24,317.10 231.41,317.21 231.59,317.28 231.76,317.34 231.93,317.23 232.10,317.21 232.28,317.00 232.45,317.34 232.62,317.19 232.79,316.99 232.97,317.25 233.14,317.55 233.31,316.96 233.48,316.99 233.66,317.25 233.83,316.93 234.00,316.79 234.17,316.72 234.35,316.23 234.52,315.86 234.69,314.98 234.87,314.01 235.04,312.53 235.21,310.60 235.38,310.36 235.56,311.04 235.73,312.45 235.90,313.88 236.07,315.01 236.25,315.86 236.42,316.22 236.59,316.47 236.76,316.91 236.94,316.94 237.11,316.81 237.28,316.29 237.45,315.42 237.63,314.79 237.80,313.86 237.97,313.32 238.14,313.82 238.32,314.58 238.49,315.64 238.66,316.23 238.83,316.45 239.01,316.87 239.18,316.99 239.35,317.47 239.53,317.19 239.70,317.11 239.87,316.99 240.04,316.88 240.22,316.75 240.39,316.29 240.56,315.71 240.73,315.61 240.91,314.90 241.08,314.90 241.25,315.44 241.42,315.90 241.60,316.33 241.77,316.61 241.94,316.96 242.11,317.09 242.29,317.41 242.46,317.34 242.63,317.60 242.80,317.26 242.98,317.62 243.15,317.42 243.32,317.13 243.50,317.19 243.67,317.43 243.84,317.68 244.01,317.30 244.19,317.56 244.36,317.35 244.53,317.62 244.70,317.14 244.88,317.39 245.05,317.64 245.22,317.27 245.39,317.26 245.57,317.12 245.74,317.20 245.91,317.27 246.08,317.53 246.26,317.24 246.43,317.35 246.60,317.23 246.77,317.47 246.95,317.63 247.12,317.50 247.29,317.23 247.46,317.56 247.64,317.70 247.81,317.48 247.98,317.17 248.16,317.60 248.33,317.64 248.50,317.32 248.67,317.20 248.85,317.22 249.02,317.43 249.19,317.62 249.36,317.46 249.54,317.60 249.71,317.12 249.88,317.10 250.05,317.20 250.23,316.87 250.40,316.30 250.57,315.89 250.74,315.10 250.92,314.68 251.09,315.15 251.26,315.51 251.43,316.44 251.61,316.70 251.78,317.06 251.95,317.28 252.13,317.17 252.30,317.35 252.47,317.11 252.64,317.68 252.82,317.47 252.99,317.73 253.16,317.18 253.33,317.52 253.51,317.59 253.68,317.36 253.85,317.22 254.02,317.26 254.20,317.25 254.37,317.63 254.54,317.22 254.71,317.66 254.89,317.42 255.06,317.49 255.23,317.53 255.40,317.51 255.58,317.57 255.75,317.54 255.92,317.37 256.09,317.62 256.27,317.33 256.44,317.60 256.61,317.63 256.79,317.64 256.96,317.35 257.13,317.62 257.30,317.73 257.48,317.39 257.65,317.25 257.82,317.33 257.99,317.47 258.17,316.80 258.34,316.40 258.51,316.13 258.68,315.42 258.86,314.51 259.03,313.53 259.20,313.90 259.37,314.19 259.55,315.49 259.72,315.91 259.89,316.42 260.06,316.81 260.24,316.96 260.41,317.33 260.58,317.43 260.76,317.24 260.93,317.71 261.10,317.38 261.27,317.24 261.45,317.24 261.62,317.55 261.79,317.60 261.96,317.04 262.14,316.77 262.31,316.90 262.48,316.07 262.65,315.82 262.83,314.84 263.00,314.61 263.17,314.75 263.34,315.72 263.52,316.21 263.69,316.64 263.86,317.31 264.03,317.02 264.21,317.51 264.38,317.17 264.55,317.56 264.72,317.43 264.90,317.73 265.07,317.25 265.24,317.56 265.42,317.47 265.59,317.77 265.76,317.78 265.93,317.58 266.11,317.33 266.28,317.32 266.45,317.29 266.62,317.33 266.80,317.12 266.97,316.95 267.14,317.04 267.31,316.57 267.49,315.75 267.66,315.30 267.83,313.76 268.00,313.01 268.18,312.36 268.35,313.19 268.52,314.16 268.69,314.87 268.87,316.04 269.04,316.69 269.21,316.77 269.39,317.04 269.56,317.29 269.73,317.63 269.90,317.25 270.08,317.61 270.25,317.58 270.42,317.51 270.59,317.60 270.77,317.79 270.94,317.40 271.11,317.81 271.28,317.50 271.46,317.75 271.63,317.80 271.80,317.40 271.97,317.81 272.15,317.89 272.32,317.47 272.49,317.30 272.66,317.35 272.84,317.87 273.01,317.29 273.18,317.82 273.35,317.36 273.53,317.69 273.70,317.29 273.87,317.29 274.05,317.54 274.22,317.09 274.39,317.09 274.56,317.18 274.74,316.67 274.91,316.17 275.08,315.43 275.25,314.01 275.43,313.55 275.60,313.88 275.77,314.41 275.94,314.88 276.12,315.95 276.29,316.39 276.46,316.90 276.63,316.96 276.81,317.06 276.98,317.74 277.15,317.40 277.32,317.78 277.50,317.35 277.67,317.58 277.84,317.38 278.02,317.57 278.19,317.42 278.36,317.73 278.53,317.40 278.71,317.76 278.88,317.61 279.05,317.36 279.22,317.49 279.40,317.54 279.57,317.75 279.74,317.33 279.91,317.12 280.09,317.36 280.26,316.98 280.43,316.38 280.60,315.37 280.78,314.41 280.95,313.66 281.12,313.20 281.29,313.53 281.47,314.62 281.64,315.46 281.81,316.28 281.98,316.68 282.16,316.81 282.33,317.42 282.50,317.53 282.68,317.55 282.85,317.60 283.02,317.72 283.19,317.92 283.37,317.87 283.54,317.78 283.71,317.60 283.88,317.56 284.06,317.62 284.23,317.96 284.40,317.61 284.57,317.61 284.75,317.63 284.92,317.47 285.09,317.99 285.26,317.39 285.44,317.76 285.61,317.95 285.78,317.55 285.95,317.76 286.13,317.62 286.30,317.54" fill="none" stroke="#e63c47" stroke-width="1.8" stroke-linejoin="round" stroke-linecap="round" />
</g>
<line x1="181.40" y1="233.10" x2="194.50" y2="233.10" stroke="#505556" stroke-width="2.0" stroke-linecap="butt"/>
<line x1="181.40" y1="247.40" x2="194.50" y2="247.40" stroke="#e63c47" stroke-width="2.0" stroke-linecap="butt"/>
<text x="199.80" y="236.10" font-size="11" font-weight="bold" text-anchor="start" fill="#33201e" stroke="#33201e" stroke-width="0.22" >Oxalic acid</text>
<text x="199.80" y="250.70" font-size="11" font-weight="bold" text-anchor="start" fill="#33201e" stroke="#33201e" stroke-width="0.22" >Bio-Oxalic acid</text>
<g transform="translate(53.1 278.6) rotate(-90)">
<text x="0" y="2.4" font-size="8.6" text-anchor="middle" fill="#2a201f">(100)</text>
</g>
<g transform="translate(88.7 297) rotate(-90)">
<text x="0" y="2.4" font-size="8.6" text-anchor="middle" fill="#2a201f">(110)</text>
</g>
<g transform="translate(97.3 293.3) rotate(-90)">
<text x="0" y="2.4" font-size="8.6" text-anchor="middle" fill="#2a201f">(011)</text>
</g>
<g transform="translate(108.3 300.2) rotate(-90)">
<text x="0" y="2.4" font-size="8.6" text-anchor="middle" fill="#2a201f">(111)</text>
<line x1="-6.6" y1="-5.2" x2="-2.8" y2="-5.2" stroke="#2a201f" stroke-width="0.95"/>
</g>
<g transform="translate(123.2 281.7) rotate(-81)">
<text x="0" y="2.4" font-size="8.6" text-anchor="middle" fill="#2a201f">(102)</text>
<line x1="-6.6" y1="-5.2" x2="-2.8" y2="-5.2" stroke="#2a201f" stroke-width="0.95"/>
</g>
<g transform="translate(136 264) rotate(-90)">
<text x="0" y="2.4" font-size="8.6" text-anchor="middle" fill="#2a201f">(111)</text>
</g>
<g transform="translate(150 228.6) rotate(-90)">
<text x="0" y="2.4" font-size="8.6" text-anchor="middle" fill="#2a201f">(211)</text>
<line x1="-6.6" y1="-5.2" x2="-2.8" y2="-5.2" stroke="#2a201f" stroke-width="0.95"/>
</g>
<g transform="translate(192.7 292.3) rotate(-82)">
<text x="0" y="2.4" font-size="8.6" text-anchor="middle" fill="#2a201f">(302)</text>
<line x1="-6.6" y1="-5.2" x2="-2.8" y2="-5.2" stroke="#2a201f" stroke-width="0.95"/>
</g>
<g transform="translate(242.3 291.6) rotate(-86)">
<text x="0" y="2.4" font-size="8.6" text-anchor="middle" fill="#2a201f">(023)</text>
</g>
<g transform="translate(273.8 291.5) rotate(-88)">
<text x="0" y="2.4" font-size="8.6" text-anchor="middle" fill="#2a201f">(311)</text>
</g>
<line x1="125.70" y1="293.00" x2="133.60" y2="304.00" stroke="#7a4a12" stroke-width="1.2" stroke-linecap="butt"/>
<line x1="196.80" y1="303.00" x2="203.00" y2="314.20" stroke="#7a4a12" stroke-width="1.2" stroke-linecap="butt"/>
<line x1="243.40" y1="303.60" x2="249.90" y2="315.00" stroke="#7a4a12" stroke-width="1.2" stroke-linecap="butt"/>
<line x1="273.80" y1="302.70" x2="279.60" y2="314.20" stroke="#7a4a12" stroke-width="1.2" stroke-linecap="butt"/>
<clipPath id="dc"><rect x="373.0" y="216.4" width="259.0" height="136.4"/></clipPath>
<g clip-path="url(#dc)">
<polyline points="373.00,227.40 373.40,227.40 373.80,227.40 374.20,227.40 374.60,227.40 375.00,227.40 375.40,227.40 375.80,227.40 376.20,227.40 376.60,227.40 377.00,227.40 377.40,227.40 377.80,227.40 378.20,227.40 378.60,227.40 379.00,227.40 379.40,227.40 379.80,227.40 380.20,227.40 380.60,227.40 381.00,227.40 381.40,227.40 381.80,227.40 382.20,227.40 382.60,227.40 383.00,227.40 383.40,227.40 383.80,227.40 384.20,227.40 384.60,227.40 385.00,227.40 385.40,227.40 385.80,227.40 386.20,227.40 386.60,227.40 387.00,227.40 387.40,227.40 387.80,227.40 388.20,227.40 388.60,227.40 389.00,227.40 389.40,227.40 389.80,227.40 390.20,227.40 390.60,227.40 391.00,227.40 391.40,227.40 391.80,227.40 392.20,227.40 392.60,227.40 393.00,227.40 393.40,227.40 393.80,227.40 394.20,227.40 394.60,227.40 395.00,227.40 395.40,227.40 395.80,227.40 396.20,227.40 396.60,227.40 397.00,227.40 397.40,227.40 397.80,227.40 398.20,227.40 398.60,227.40 399.00,227.40 399.40,227.40 399.80,227.41 400.20,227.43 400.60,227.47 401.00,227.52 401.40,227.57 401.80,227.62 402.20,227.66 402.60,227.71 403.00,227.76 403.40,227.81 403.80,227.86 404.20,227.90 404.60,227.95 405.00,228.03 405.40,228.14 405.80,228.27 406.20,228.41 406.60,228.54 407.00,228.68 407.40,228.82 407.80,228.95 408.20,229.09 408.60,229.22 409.00,229.36 409.40,229.50 409.80,229.62 410.20,229.71 410.60,229.76 411.00,229.81 411.40,229.85 411.80,229.89 412.20,229.94 412.60,229.98 413.00,230.02 413.40,230.06 413.80,230.11 414.20,230.15 414.60,230.19 415.00,230.24 415.40,230.26 415.80,230.26 416.20,230.23 416.60,230.18 417.00,230.14 417.40,230.09 417.80,230.04 418.20,229.99 418.60,229.95 419.00,229.88 419.40,229.80 419.80,229.71 420.20,229.61 420.60,229.52 421.00,229.42 421.40,229.32 421.80,229.23 422.20,229.13 422.60,229.04 423.00,228.94 423.40,228.84 423.80,228.76 424.20,228.69 424.60,228.65 425.00,228.61 425.40,228.58 425.80,228.54 426.20,228.51 426.60,228.47 427.00,228.44 427.40,228.40 427.80,228.37 428.20,228.33 428.60,228.30 429.00,228.26 429.40,228.23 429.80,228.19 430.20,228.16 430.60,228.12 431.00,228.09 431.40,228.05 431.80,228.02 432.20,227.99 432.60,227.97 433.00,227.95 433.40,227.93 433.80,227.91 434.20,227.89 434.60,227.87 435.00,227.85 435.40,227.83 435.80,227.81 436.20,227.79 436.60,227.77 437.00,227.75 437.40,227.73 437.80,227.71 438.20,227.69 438.60,227.67 439.00,227.65 439.40,227.63 439.80,227.61 440.20,227.60 440.60,227.59 441.00,227.59 441.40,227.59 441.80,227.58 442.20,227.58 442.60,227.58 443.00,227.57 443.40,227.57 443.80,227.57 444.20,227.56 444.60,227.56 445.00,227.56 445.40,227.55 445.80,227.55 446.20,227.55 446.60,227.54 447.00,227.54 447.40,227.54 447.80,227.53 448.20,227.53 448.60,227.52 449.00,227.52 449.40,227.52 449.80,227.51 450.20,227.51 450.60,227.51 451.00,227.50 451.40,228.02 451.80,229.07 452.20,230.64 452.60,231.45 453.00,231.24 453.40,230.02 453.80,228.78 454.20,228.05 454.60,227.80 455.00,227.80 455.40,227.80 455.80,227.80 456.20,227.99 456.60,228.58 457.00,229.55 457.40,230.52 457.80,230.69 458.20,230.06 458.60,228.83 459.00,228.01 459.40,227.61 459.80,227.62 460.20,227.63 460.60,227.64 461.00,227.65 461.40,227.67 461.80,227.68 462.20,227.69 462.60,227.70 463.00,227.71 463.40,227.72 463.80,227.73 464.20,227.74 464.60,227.75 465.00,227.76 465.40,227.77 465.80,227.79 466.20,227.80 466.60,227.81 467.00,227.82 467.40,227.83 467.80,227.84 468.20,227.85 468.60,227.86 469.00,227.87 469.40,227.88 469.80,227.89 470.20,227.90 470.60,227.90 471.00,227.90 471.40,227.90 471.80,227.90 472.20,227.91 472.60,227.91 473.00,227.91 473.40,227.91 473.80,227.91 474.20,227.91 474.60,227.91 475.00,227.91 475.40,227.91 475.80,227.91 476.20,227.92 476.60,227.92 477.00,227.92 477.40,227.92 477.80,227.92 478.20,227.92 478.60,227.92 479.00,227.92 479.40,227.92 479.80,227.92 480.20,227.92 480.60,227.93 481.00,227.93 481.40,227.93 481.80,227.93 482.20,227.93 482.60,227.93 483.00,227.93 483.40,227.93 483.80,227.93 484.20,227.93 484.60,227.94 485.00,227.94 485.40,227.94 485.80,227.94 486.20,227.94 486.60,227.94 487.00,227.94 487.40,227.94 487.80,227.94 488.20,227.94 488.60,227.95 489.00,227.95 489.40,227.95 489.80,227.95 490.20,227.95 490.60,227.95 491.00,227.95 491.40,227.95 491.80,227.95 492.20,227.95 492.60,227.96 493.00,227.96 493.40,227.96 493.80,227.96 494.20,227.96 494.60,227.96 495.00,227.96 495.40,227.96 495.80,227.96 496.20,227.96 496.60,227.97 497.00,227.97 497.40,227.97 497.80,227.97 498.20,227.97 498.60,227.97 499.00,227.97 499.40,227.97 499.80,227.97 500.20,227.97 500.60,227.97 501.00,227.98 501.40,227.98 501.80,227.98 502.20,227.98 502.60,227.98 503.00,227.98 503.40,227.98 503.80,227.98 504.20,227.98 504.60,227.98 505.00,227.99 505.40,227.99 505.80,227.99 506.20,227.99 506.60,227.99 507.00,227.99 507.40,227.99 507.80,227.99 508.20,227.99 508.60,227.99 509.00,228.00 509.40,228.00 509.80,228.00 510.20,228.00 510.60,228.00 511.00,228.02 511.40,228.04 511.80,228.07 512.20,228.10 512.60,228.12 513.00,228.15 513.40,228.18 513.80,228.21 514.20,228.23 514.60,228.26 515.00,228.29 515.40,228.32 515.80,228.34 516.20,228.37 516.60,228.40 517.00,228.42 517.40,228.45 517.80,228.48 518.20,228.51 518.60,228.53 519.00,228.56 519.40,228.59 519.80,228.62 520.20,228.64 520.60,228.67 521.00,228.70 521.40,228.73 521.80,228.75 522.20,228.78 522.60,228.81 523.00,228.84 523.40,228.86 523.80,228.89 524.20,228.92 524.60,228.95 525.00,228.97 525.40,229.00 525.80,229.03 526.20,229.06 526.60,229.08 527.00,229.11 527.40,229.14 527.80,229.17 528.20,229.19 528.60,229.22 529.00,229.25 529.40,229.27 529.80,229.30 530.20,229.33 530.60,229.36 531.00,229.38 531.40,229.41 531.80,229.44 532.20,229.47 532.60,229.49 533.00,229.52 533.40,229.55 533.80,229.58 534.20,229.60 534.60,229.63 535.00,229.66 535.40,229.67 535.80,229.64 536.20,229.58 536.60,229.49 537.00,229.41 537.40,229.33 537.80,229.24 538.20,229.19 538.60,229.24 539.00,229.40 539.40,229.63 539.80,229.87 540.20,230.11 540.60,230.35 541.00,230.59 541.40,230.82 541.80,231.06 542.20,231.30 542.60,231.54 543.00,231.77 543.40,232.01 543.80,232.25 544.20,232.49 544.60,232.72 545.00,232.96 545.40,233.09 545.80,233.11 546.20,233.01 546.60,232.92 547.00,232.83 547.40,232.74 547.80,232.64 548.20,232.55 548.60,232.46 549.00,232.36 549.40,232.27 549.80,232.18 550.20,232.09 550.60,231.99 551.00,231.91 551.40,231.84 551.80,231.78 552.20,231.71 552.60,231.65 553.00,231.59 553.40,231.53 553.80,231.46 554.20,231.40 554.60,231.34 555.00,231.28 555.40,231.22 555.80,231.15 556.20,231.09 556.60,231.03 557.00,230.97 557.40,230.90 557.80,230.84 558.20,230.78 558.60,230.72 559.00,230.66 559.40,230.59 559.80,230.53 560.20,230.47 560.60,230.40 561.00,230.34 561.40,230.27 561.80,230.20 562.20,230.14 562.60,230.07 563.00,230.01 563.40,229.94 563.80,229.88 564.20,229.81 564.60,229.74 565.00,229.68 565.40,229.61 565.80,229.55 566.20,229.48 566.60,229.42 567.00,229.35 567.40,229.29 567.80,229.22 568.20,229.15 568.60,229.09 569.00,229.02 569.40,228.96 569.80,228.89 570.20,228.83 570.60,228.76 571.00,228.69 571.40,228.63 571.80,228.56 572.20,228.50 572.60,228.43 573.00,228.37 573.40,228.54 573.80,228.94 574.20,229.58 574.60,230.22 575.00,230.86 575.40,231.50 575.80,232.14 576.20,232.66 576.60,232.94 577.00,232.99 577.40,232.92 577.80,232.84 578.20,232.77 578.60,232.70 579.00,232.62 579.40,232.55 579.80,232.48 580.20,232.40 580.60,232.33 581.00,232.27 581.40,232.27 581.80,232.33 582.20,232.44 582.60,232.54 583.00,232.65 583.40,232.75 583.80,232.86 584.20,232.97 584.60,233.07 585.00,233.18 585.40,233.28 585.80,233.39 586.20,233.49 586.60,233.53 587.00,233.51 587.40,233.41 587.80,233.32 588.20,233.23 588.60,233.14 589.00,233.04 589.40,232.95 589.80,232.86 590.20,232.77 590.60,232.67 591.00,232.58 591.40,232.49 591.80,232.40 592.20,232.30 592.60,232.21 593.00,232.12 593.40,232.03 593.80,231.93 594.20,231.84 594.60,231.75 595.00,231.66 595.40,231.56 595.80,231.47 596.20,231.38 596.60,231.29 597.00,231.19 597.40,231.10 597.80,231.01 598.20,230.92 598.60,230.82 599.00,230.73 599.40,230.64 599.80,230.55 600.20,230.47 600.60,230.40 601.00,230.33 601.40,230.27 601.80,230.20 602.20,230.13 602.60,230.07 603.00,230.00 603.40,229.93 603.80,229.87 604.20,229.80 604.60,229.73 605.00,229.67 605.40,229.60 605.80,229.53 606.20,229.47 606.60,229.40 607.00,229.33 607.40,229.27 607.80,229.20 608.20,229.13 608.60,229.07 609.00,229.00 609.40,228.93 609.80,228.87 610.20,228.80 610.60,228.73 611.00,228.67 611.40,228.60 611.80,228.53 612.20,228.47 612.60,228.40 613.00,228.47 613.40,228.82 613.80,229.45 614.20,230.21 614.60,230.98 615.00,231.74 615.40,232.24 615.80,232.37 616.20,232.13 616.60,231.81 617.00,231.49 617.40,231.25 617.80,231.17 618.20,231.27 618.60,231.45 619.00,231.64 619.40,231.82 619.80,232.00 620.20,232.18 620.60,232.36 621.00,232.54 621.40,232.72 621.80,232.91 622.20,233.09 622.60,233.27 623.00,233.45 623.40,233.63 623.80,233.81 624.20,233.99 624.60,234.18 625.00,234.36 625.40,234.54 625.80,234.72 626.20,234.90 626.60,235.08 627.00,235.25 627.40,235.33 627.80,235.35 628.20,235.30 628.60,235.26 629.00,235.22 629.40,235.18 629.80,235.13 630.20,235.09 630.60,235.05 631.00,235.01 631.40,234.96 631.80,234.94" fill="none" stroke="#4b5051" stroke-width="1.8" stroke-linejoin="round" stroke-linecap="round" />
<polyline points="373.00,234.10 373.40,234.10 373.80,234.10 374.20,234.10 374.60,234.10 375.00,234.10 375.40,234.10 375.80,234.10 376.20,234.10 376.60,234.10 377.00,234.10 377.40,234.10 377.80,234.10 378.20,234.10 378.60,234.10 379.00,234.10 379.40,234.10 379.80,234.10 380.20,234.10 380.60,234.10 381.00,234.10 381.40,234.10 381.80,234.10 382.20,234.10 382.60,234.10 383.00,234.10 383.40,234.10 383.80,234.10 384.20,234.10 384.60,234.10 385.00,234.10 385.40,234.10 385.80,234.10 386.20,234.10 386.60,234.10 387.00,234.10 387.40,234.10 387.80,234.10 388.20,234.10 388.60,234.10 389.00,234.10 389.40,234.10 389.80,234.10 390.20,234.10 390.60,234.10 391.00,234.10 391.40,234.10 391.80,234.10 392.20,234.10 392.60,234.10 393.00,234.13 393.40,234.19 393.80,234.28 394.20,234.36 394.60,234.45 395.00,234.54 395.40,234.63 395.80,234.72 396.20,234.80 396.60,234.89 397.00,234.98 397.40,235.07 397.80,235.18 398.20,235.35 398.60,235.58 399.00,235.83 399.40,236.09 399.80,236.34 400.20,236.59 400.60,236.85 401.00,237.10 401.40,237.35 401.80,237.61 402.20,237.86 402.60,238.11 403.00,238.37 403.40,238.62 403.80,238.91 404.20,239.26 404.60,239.67 405.00,240.12 405.40,240.57 405.80,241.02 406.20,241.47 406.60,241.92 407.00,242.37 407.40,242.82 407.80,243.27 408.20,243.72 408.60,244.17 409.00,244.62 409.40,245.07 409.80,245.52 410.20,245.97 410.60,246.42 411.00,246.87 411.40,247.32 411.80,247.76 412.20,248.16 412.60,248.54 413.00,248.90 413.40,249.26 413.80,249.62 414.20,249.98 414.60,250.34 415.00,250.70 415.40,251.06 415.80,251.42 416.20,251.78 416.60,252.14 417.00,252.50 417.40,252.86 417.80,253.22 418.20,253.58 418.60,253.94 419.00,254.23 419.40,254.44 419.80,254.58 420.20,254.72 420.60,254.86 421.00,255.00 421.40,255.14 421.80,255.28 422.20,255.42 422.60,255.56 423.00,255.70 423.40,255.84 423.80,255.98 424.20,256.12 424.60,256.26 425.00,256.37 425.40,256.41 425.80,256.35 426.20,256.23 426.60,256.11 427.00,255.99 427.40,255.87 427.80,255.75 428.20,255.64 428.60,255.52 429.00,255.40 429.40,255.28 429.80,255.16 430.20,255.04 430.60,254.92 431.00,254.72 431.40,254.44 431.80,254.08 432.20,253.72 432.60,253.36 433.00,253.00 433.40,252.64 433.80,252.28 434.20,251.92 434.60,251.56 435.00,251.20 435.40,250.84 435.80,250.48 436.20,250.12 436.60,249.76 437.00,249.40 437.40,249.04 437.80,248.67 438.20,248.27 438.60,247.84 439.00,247.40 439.40,246.96 439.80,246.52 440.20,246.08 440.60,245.64 441.00,245.20 441.40,244.76 441.80,244.32 442.20,243.88 442.60,243.44 443.00,243.05 443.40,242.70 443.80,242.39 444.20,242.09 444.60,241.78 445.00,241.48 445.40,241.17 445.80,240.87 446.20,240.56 446.60,240.26 447.00,240.05 447.40,240.05 447.80,240.24 448.20,240.54 448.60,240.83 449.00,241.13 449.40,241.46 449.80,241.84 450.20,242.26 450.60,242.69 451.00,243.12 451.40,243.55 451.80,243.89 452.20,244.02 452.60,243.96 453.00,243.80 453.40,243.64 453.80,243.49 454.20,243.37 454.60,243.28 455.00,243.20 455.40,243.12 455.80,243.00 456.20,242.79 456.60,242.50 457.00,242.17 457.40,241.83 457.80,241.50 458.20,241.17 458.60,240.83 459.00,240.53 459.40,240.25 459.80,240.00 460.20,239.75 460.60,239.50 461.00,239.25 461.40,239.00 461.80,238.75 462.20,238.50 462.60,238.25 463.00,238.05 463.40,237.89 463.80,237.79 464.20,237.68 464.60,237.57 465.00,237.47 465.40,237.36 465.80,237.25 466.20,237.15 466.60,237.04 467.00,236.93 467.40,236.83 467.80,236.72 468.20,236.61 468.60,236.51 469.00,236.41 469.40,236.34 469.80,236.28 470.20,236.21 470.60,236.15 471.00,236.09 471.40,236.03 471.80,235.96 472.20,235.90 472.60,235.84 473.00,235.78 473.40,235.71 473.80,235.65 474.20,235.59 474.60,235.53 475.00,235.46 475.40,235.41 475.80,235.38 476.20,235.36 476.60,235.34 477.00,235.32 477.40,235.30 477.80,235.28 478.20,235.26 478.60,235.24 479.00,235.22 479.40,235.20 479.80,235.18 480.20,235.15 480.60,235.13 481.00,235.11 481.40,235.09 481.80,235.07 482.20,235.05 482.60,235.03 483.00,235.01 483.40,234.99 483.80,234.97 484.20,234.95 484.60,234.93 485.00,234.91 485.40,234.89 485.80,234.87 486.20,234.85 486.60,234.83 487.00,234.81 487.40,234.79 487.80,234.77 488.20,234.75 488.60,234.73 489.00,234.70 489.40,234.68 489.80,234.66 490.20,234.64 490.60,234.62 491.00,234.60 491.40,234.58 491.80,234.56 492.20,234.54 492.60,234.52 493.00,234.50 493.40,234.49 493.80,234.49 494.20,234.48 494.60,234.47 495.00,234.47 495.40,234.46 495.80,234.45 496.20,234.45 496.60,234.44 497.00,234.43 497.40,234.43 497.80,234.42 498.20,234.41 498.60,234.41 499.00,234.40 499.40,234.39 499.80,234.39 500.20,234.38 500.60,234.37 501.00,234.37 501.40,234.36 501.80,234.35 502.20,234.34 502.60,234.34 503.00,234.33 503.40,234.32 503.80,234.32 504.20,234.31 504.60,234.30 505.00,234.30 505.40,234.29 505.80,234.28 506.20,234.28 506.60,234.27 507.00,234.26 507.40,234.26 507.80,234.25 508.20,234.24 508.60,234.24 509.00,234.23 509.40,234.22 509.80,234.22 510.20,234.21 510.60,234.21 511.00,234.21 511.40,234.21 511.80,234.22 512.20,234.23 512.60,234.24 513.00,234.25 513.40,234.25 513.80,234.26 514.20,234.27 514.60,234.28 515.00,234.29 515.40,234.30 515.80,234.30 516.20,234.31 516.60,234.32 517.00,234.33 517.40,234.34 517.80,234.35 518.20,234.35 518.60,234.36 519.00,234.37 519.40,234.38 519.80,234.39 520.20,234.40 520.60,234.40 521.00,234.41 521.40,234.42 521.80,234.43 522.20,234.44 522.60,234.45 523.00,234.45 523.40,234.46 523.80,234.47 524.20,234.48 524.60,234.49 525.00,234.50 525.40,234.50 525.80,234.51 526.20,234.52 526.60,234.53 527.00,234.54 527.40,234.55 527.80,234.55 528.20,234.56 528.60,234.57 529.00,234.58 529.40,234.59 529.80,234.60 530.20,234.60 530.60,234.61 531.00,234.62 531.40,234.62 531.80,234.63 532.20,234.64 532.60,234.65 533.00,234.65 533.40,234.66 533.80,234.67 534.20,234.67 534.60,234.68 535.00,234.69 535.40,234.73 535.80,234.83 536.20,235.00 536.60,235.20 537.00,235.40 537.40,235.60 537.80,235.80 538.20,236.00 538.60,236.22 539.00,236.48 539.40,236.79 539.80,237.11 540.20,237.44 540.60,237.77 541.00,238.09 541.40,238.45 541.80,238.86 542.20,239.30 542.60,239.76 543.00,240.22 543.40,240.68 543.80,241.14 544.20,241.65 544.60,242.22 545.00,242.84 545.40,243.46 545.80,244.08 546.20,244.71 546.60,245.33 547.00,245.95 547.40,246.57 547.80,247.19 548.20,247.80 548.60,248.40 549.00,249.00 549.40,249.60 549.80,250.20 550.20,250.80 550.60,251.40 551.00,252.00 551.40,252.11 551.80,251.72 552.20,250.85 552.60,249.97 553.00,249.10 553.40,248.23 553.80,247.38 554.20,246.54 554.60,245.70 555.00,244.86 555.40,244.07 555.80,243.44 556.20,242.98 556.60,242.64 557.00,242.30 557.40,241.96 557.80,241.62 558.20,241.48 558.60,241.58 559.00,241.94 559.40,242.36 559.80,242.81 560.20,243.31 560.60,243.85 561.00,244.42 561.40,244.99 561.80,245.48 562.20,245.85 562.60,246.12 563.00,246.36 563.40,246.60 563.80,246.84 564.20,247.08 564.60,247.32 565.00,247.56 565.40,247.59 565.80,247.40 566.20,247.00 566.60,246.60 567.00,246.18 567.40,245.72 567.80,245.23 568.20,244.71 568.60,244.57 569.00,244.80 569.40,245.40 569.80,246.35 570.20,247.64 570.60,249.27 571.00,250.91 571.40,252.55 571.80,253.70 572.20,253.89 572.60,253.13 573.00,251.88 573.40,250.67 573.80,249.57 574.20,248.56 574.60,247.60 575.00,246.85 575.40,246.38 575.80,246.20 576.20,246.08 576.60,245.97 577.00,245.85 577.40,245.74 577.80,245.62 578.20,245.50 578.60,245.39 579.00,245.27 579.40,245.09 579.80,244.76 580.20,244.29 580.60,243.75 581.00,243.22 581.40,242.68 581.80,242.14 582.20,242.00 582.60,242.25 583.00,242.90 583.40,243.56 583.80,244.21 584.20,244.86 584.60,245.56 585.00,246.43 585.40,247.48 585.80,248.66 586.20,249.84 586.60,251.02 587.00,251.86 587.40,252.36 587.80,252.51 588.20,252.67 588.60,252.83 589.00,253.11 589.40,253.91 589.80,255.23 590.20,256.93 590.60,258.64 591.00,260.34 591.40,262.04 591.80,263.14 592.20,263.01 592.60,261.67 593.00,259.72 593.40,257.88 593.80,256.53 594.20,255.66 594.60,255.15 595.00,254.64 595.40,253.85 595.80,252.68 596.20,251.15 596.60,249.52 597.00,247.88 597.40,246.25 597.80,244.81 598.20,244.13 598.60,244.20 599.00,244.83 599.40,245.47 599.80,246.10 600.20,246.43 600.60,246.35 601.00,245.85 601.40,245.25 601.80,244.65 602.20,244.05 602.60,243.56 603.00,243.49 603.40,243.85 603.80,244.53 604.20,245.20 604.60,245.88 605.00,246.43 605.40,246.72 605.80,246.76 606.20,246.66 606.60,246.57 607.00,246.54 607.40,246.79 607.80,247.33 608.20,248.07 608.60,248.81 609.00,249.55 609.40,250.29 609.80,251.03 610.20,251.78 610.60,252.52 611.00,253.26 611.40,253.83 611.80,254.23 612.20,254.45 612.60,254.68 613.00,254.90 613.40,255.13 613.80,255.35 614.20,255.58 614.60,255.80 615.00,256.03 615.40,256.25 615.80,256.48 616.20,256.70 616.60,256.93 617.00,257.15 617.40,257.38 617.80,257.61 618.20,257.83 618.60,258.06 619.00,258.28 619.40,258.51 619.80,258.73 620.20,258.96 620.60,259.18 621.00,259.41 621.40,259.63 621.80,259.86 622.20,260.08 622.60,260.31 623.00,260.54 623.40,260.76 623.80,260.99 624.20,261.21 624.60,261.44 625.00,261.66 625.40,261.87 625.80,262.03 626.20,262.14 626.60,262.24 627.00,262.33 627.40,262.42 627.80,262.52 628.20,262.61 628.60,262.71 629.00,262.99 629.40,263.45 629.80,264.11 630.20,264.76 630.60,265.42 631.00,265.85 631.40,265.82 631.80,265.70" fill="none" stroke="#e2323d" stroke-width="1.8" stroke-linejoin="round" stroke-linecap="round" />
<polyline points="373.00,283.00 373.50,283.00 374.00,283.00 374.50,282.99 375.00,282.99 375.50,282.99 376.00,282.99 376.50,282.99 377.00,282.99 377.50,282.98 378.00,282.98 378.50,282.98 379.00,282.98 379.50,282.98 380.00,282.97 380.50,282.97 381.00,282.97 381.50,282.97 382.00,282.97 382.50,282.96 383.00,282.96 383.50,282.96 384.00,282.96 384.50,282.96 385.00,282.96 385.50,282.95 386.00,282.95 386.50,282.95 387.00,282.95 387.50,282.95 388.00,282.94 388.50,282.94 389.00,282.94 389.50,282.94 390.00,282.94 390.50,282.94 391.00,282.93 391.50,282.93 392.00,282.93 392.50,282.93 393.00,282.93 393.50,282.92 394.00,282.92 394.50,282.92 395.00,282.92 395.50,282.92 396.00,282.91 396.50,282.91 397.00,282.91 397.50,282.91 398.00,282.91 398.50,282.91 399.00,282.90 399.50,282.90 400.00,282.91 400.50,282.92 401.00,282.94 401.50,282.96 402.00,282.98 402.50,283.00 403.00,283.02 403.50,283.04 404.00,283.06 404.50,283.08 405.00,283.10 405.50,283.12 406.00,283.14 406.50,283.16 407.00,283.18 407.50,283.20 408.00,283.22 408.50,283.24 409.00,283.26 409.50,283.28 410.00,283.30 410.50,283.32 411.00,283.34 411.50,283.36 412.00,283.38 412.50,283.40 413.00,283.42 413.50,283.44 414.00,283.46 414.50,283.48 415.00,283.50 415.50,283.52 416.00,283.54 416.50,283.56 417.00,283.58 417.50,283.60 418.00,283.62 418.50,283.64 419.00,283.66 419.50,283.68 420.00,283.70 420.50,283.72 421.00,283.74 421.50,283.76 422.00,283.78 422.50,283.80 423.00,283.82 423.50,283.84 424.00,283.86 424.50,283.88 425.00,283.89 425.50,283.89 426.00,283.88 426.50,283.86 427.00,283.85 427.50,283.84 428.00,283.83 428.50,283.82 429.00,283.80 429.50,283.79 430.00,283.78 430.50,283.77 431.00,283.76 431.50,283.74 432.00,283.73 432.50,283.72 433.00,283.71 433.50,283.70 434.00,283.68 434.50,283.67 435.00,283.66 435.50,283.65 436.00,283.64 436.50,283.62 437.00,283.61 437.50,283.60 438.00,283.59 438.50,283.58 439.00,283.56 439.50,283.55 440.00,283.54 440.50,283.53 441.00,283.52 441.50,283.50 442.00,283.49 442.50,283.48 443.00,283.47 443.50,283.46 444.00,283.44 444.50,283.43 445.00,283.42 445.50,283.41 446.00,283.40 446.50,283.38 447.00,283.37 447.50,283.36 448.00,283.35 448.50,283.34 449.00,283.32 449.50,283.31 450.00,283.30 450.50,283.29 451.00,283.28 451.50,283.28 452.00,283.27 452.50,283.26 453.00,283.25 453.50,283.24 454.00,283.24 454.50,283.23 455.00,283.22 455.50,283.21 456.00,283.20 456.50,283.20 457.00,283.19 457.50,283.18 458.00,283.17 458.50,283.16 459.00,283.16 459.50,283.15 460.00,283.14 460.50,283.13 461.00,283.12 461.50,283.12 462.00,283.11 462.50,283.10 463.00,283.09 463.50,283.08 464.00,283.08 464.50,283.07 465.00,283.06 465.50,283.05 466.00,283.04 466.50,283.04 467.00,283.03 467.50,283.02 468.00,283.01 468.50,283.00 469.00,283.00 469.50,282.99 470.00,282.98 470.50,282.97 471.00,282.96 471.50,282.96 472.00,282.95 472.50,282.94 473.00,282.93 473.50,282.92 474.00,282.92 474.50,282.91 475.00,282.90 475.50,282.90 476.00,282.90 476.50,282.90 477.00,282.90 477.50,282.90 478.00,282.90 478.50,282.90 479.00,282.90 479.50,282.90 480.00,282.90 480.50,282.90 481.00,282.90 481.50,282.90 482.00,282.90 482.50,282.90 483.00,282.90 483.50,282.90 484.00,282.90 484.50,282.90 485.00,282.90 485.50,282.90 486.00,282.90 486.50,282.90 487.00,282.90 487.50,282.90 488.00,282.90 488.50,282.90 489.00,282.90 489.50,282.90 490.00,282.90 490.50,282.90 491.00,282.90 491.50,282.90 492.00,282.90 492.50,282.90 493.00,282.90 493.50,282.90 494.00,282.90 494.50,282.90 495.00,282.90 495.50,282.90 496.00,282.90 496.50,282.90 497.00,282.90 497.50,282.90 498.00,282.90 498.50,282.90 499.00,282.90 499.50,282.90 500.00,282.90 500.50,282.90 501.00,282.90 501.50,282.90 502.00,282.90 502.50,282.90 503.00,282.90 503.50,282.90 504.00,282.90 504.50,282.90 505.00,282.90 505.50,282.90 506.00,282.90 506.50,282.90 507.00,282.90 507.50,282.90 508.00,282.90 508.50,282.90 509.00,282.90 509.50,282.90 510.00,282.90 510.50,282.90 511.00,282.90 511.50,282.90 512.00,282.90 512.50,282.90 513.00,282.90 513.50,282.90 514.00,282.90 514.50,282.90 515.00,282.90 515.50,282.90 516.00,282.90 516.50,282.90 517.00,282.90 517.50,282.90 518.00,282.90 518.50,282.90 519.00,282.90 519.50,282.90 520.00,282.90 520.50,282.90 521.00,282.90 521.50,282.90 522.00,282.90 522.50,282.90 523.00,282.90 523.50,282.90 524.00,282.90 524.50,282.90 525.00,282.90 525.50,282.90 526.00,282.90 526.50,282.90 527.00,282.90 527.50,282.90 528.00,282.90 528.50,282.90 529.00,282.90 529.50,282.90 530.00,282.90 530.50,282.90 531.00,282.90 531.50,282.90 532.00,282.90 532.50,282.90 533.00,282.90 533.50,282.90 534.00,282.90 534.50,282.90 535.00,282.90 535.50,282.90 536.00,282.90 536.50,282.90 537.00,282.90 537.50,282.90 538.00,282.90 538.50,282.90 539.00,282.90 539.50,282.90 540.00,282.94 540.50,283.01 541.00,283.12 541.50,283.24 542.00,283.35 542.50,283.46 543.00,283.57 543.50,283.69 544.00,283.89 544.50,284.18 545.00,284.56 545.50,284.94 546.00,285.32 546.50,285.70 547.00,286.08 547.50,286.46 548.00,286.83 548.50,287.21 549.00,287.59 549.50,287.87 550.00,287.88 550.50,287.62 551.00,287.21 551.50,286.79 552.00,286.38 552.50,285.97 553.00,285.55 553.50,285.14 554.00,284.73 554.50,284.31 555.00,284.00 555.50,283.80 556.00,283.70 556.50,283.60 557.00,283.50 557.50,283.40 558.00,283.33 558.50,283.29 559.00,283.28 559.50,283.27 560.00,283.27 560.50,283.26 561.00,283.25 561.50,283.24 562.00,283.23 562.50,283.22 563.00,283.21 563.50,283.20 564.00,283.20 564.50,283.19 565.00,283.18 565.50,283.17 566.00,283.16 566.50,283.15 567.00,283.14 567.50,283.13 568.00,283.13 568.50,283.12 569.00,283.11 569.50,283.38 570.00,283.92 570.50,284.75 571.00,285.24 571.50,285.20 572.00,284.61 572.50,283.81 573.00,283.27 573.50,283.00 574.00,283.00 574.50,283.00 575.00,282.99 575.50,282.99 576.00,282.99 576.50,282.99 577.00,282.99 577.50,282.99 578.00,282.99 578.50,282.98 579.00,282.98 579.50,282.98 580.00,282.98 580.50,282.98 581.00,282.98 581.50,282.98 582.00,282.97 582.50,282.97 583.00,282.97 583.50,282.97 584.00,282.97 584.50,282.97 585.00,282.97 585.50,282.96 586.00,282.96 586.50,282.96 587.00,282.96 587.50,282.96 588.00,282.96 588.50,282.96 589.00,282.95 589.50,282.95 590.00,282.95 590.50,282.95 591.00,282.95 591.50,282.95 592.00,282.95 592.50,282.94 593.00,282.94 593.50,282.94 594.00,282.94 594.50,282.94 595.00,282.94 595.50,282.94 596.00,282.93 596.50,282.93 597.00,282.93 597.50,282.93 598.00,282.93 598.50,282.93 599.00,282.93 599.50,282.92 600.00,282.92 600.50,282.92 601.00,282.92 601.50,282.92 602.00,282.92 602.50,282.92 603.00,282.91 603.50,282.91 604.00,282.91 604.50,282.91 605.00,282.91 605.50,282.91 606.00,282.91 606.50,282.90 607.00,282.90 607.50,282.93 608.00,283.09 608.50,283.38 609.00,283.79 609.50,284.19 610.00,284.60 610.50,284.86 611.00,284.98 611.50,284.96 612.00,284.94 612.50,284.92 613.00,284.89 613.50,284.87 614.00,284.85 614.50,284.83 615.00,284.81 615.50,284.79 616.00,284.77 616.50,284.75 617.00,284.73 617.50,284.71 618.00,284.68 618.50,284.66 619.00,284.64 619.50,284.62 620.00,284.61 620.50,284.61 621.00,284.62 621.50,284.62 622.00,284.63 622.50,284.64 623.00,284.65 623.50,284.66 624.00,284.67 624.50,284.68 625.00,284.68 625.50,284.69 626.00,284.70 626.50,284.71 627.00,284.72 627.50,284.73 628.00,284.73 628.50,284.74 629.00,284.75 629.50,284.76 630.00,284.77 630.50,284.78 631.00,284.78 631.50,284.79 632.00,284.80" fill="none" stroke="#1c68b6" stroke-width="1.8" stroke-linejoin="round" stroke-linecap="round" />
<polyline points="373.00,288.60 373.50,288.60 374.00,288.60 374.50,288.60 375.00,288.60 375.50,288.60 376.00,288.60 376.50,288.60 377.00,288.60 377.50,288.60 378.00,288.60 378.50,288.60 379.00,288.60 379.50,288.60 380.00,288.60 380.50,288.60 381.00,288.60 381.50,288.60 382.00,288.60 382.50,288.60 383.00,288.60 383.50,288.60 384.00,288.60 384.50,288.60 385.00,288.60 385.50,288.60 386.00,288.60 386.50,288.60 387.00,288.60 387.50,288.60 388.00,288.60 388.50,288.60 389.00,288.60 389.50,288.60 390.00,288.60 390.50,288.60 391.00,288.60 391.50,288.60 392.00,288.60 392.50,288.60 393.00,288.60 393.50,288.60 394.00,288.60 394.50,288.60 395.00,288.60 395.50,288.60 396.00,288.60 396.50,288.60 397.00,288.60 397.50,288.60 398.00,288.60 398.50,288.60 399.00,288.60 399.50,288.60 400.00,288.61 400.50,288.62 401.00,288.64 401.50,288.66 402.00,288.68 402.50,288.70 403.00,288.72 403.50,288.74 404.00,288.76 404.50,288.78 405.00,288.80 405.50,288.82 406.00,288.84 406.50,288.86 407.00,288.88 407.50,288.90 408.00,288.92 408.50,288.94 409.00,288.96 409.50,288.98 410.00,289.00 410.50,289.02 411.00,289.04 411.50,289.06 412.00,289.08 412.50,289.10 413.00,289.12 413.50,289.14 414.00,289.16 414.50,289.18 415.00,289.20 415.50,289.22 416.00,289.24 416.50,289.26 417.00,289.28 417.50,289.30 418.00,289.32 418.50,289.34 419.00,289.36 419.50,289.38 420.00,289.40 420.50,289.42 421.00,289.44 421.50,289.46 422.00,289.48 422.50,289.50 423.00,289.52 423.50,289.54 424.00,289.56 424.50,289.58 425.00,289.59 425.50,289.59 426.00,289.58 426.50,289.58 427.00,289.57 427.50,289.56 428.00,289.55 428.50,289.54 429.00,289.54 429.50,289.53 430.00,289.52 430.50,289.51 431.00,289.50 431.50,289.50 432.00,289.49 432.50,289.48 433.00,289.47 433.50,289.46 434.00,289.46 434.50,289.45 435.00,289.44 435.50,289.43 436.00,289.42 436.50,289.42 437.00,289.41 437.50,289.40 438.00,289.39 438.50,289.38 439.00,289.38 439.50,289.37 440.00,289.36 440.50,289.35 441.00,289.34 441.50,289.34 442.00,289.33 442.50,289.32 443.00,289.31 443.50,289.30 444.00,289.30 444.50,289.29 445.00,289.28 445.50,289.27 446.00,289.26 446.50,289.26 447.00,289.25 447.50,289.24 448.00,289.23 448.50,289.22 449.00,289.22 449.50,289.21 450.00,289.20 450.50,289.19 451.00,289.19 451.50,289.18 452.00,289.18 452.50,289.17 453.00,289.16 453.50,289.16 454.00,289.15 454.50,289.15 455.00,289.14 455.50,289.13 456.00,289.13 456.50,289.12 457.00,289.12 457.50,289.11 458.00,289.10 458.50,289.10 459.00,289.09 459.50,289.09 460.00,289.08 460.50,289.07 461.00,289.07 461.50,289.06 462.00,289.06 462.50,289.05 463.00,289.04 463.50,289.04 464.00,289.03 464.50,289.03 465.00,289.02 465.50,289.01 466.00,289.01 466.50,289.00 467.00,289.00 467.50,288.99 468.00,288.98 468.50,288.98 469.00,288.97 469.50,288.97 470.00,288.96 470.50,288.95 471.00,288.95 471.50,288.94 472.00,288.94 472.50,288.93 473.00,288.92 473.50,288.92 474.00,288.91 474.50,288.91 475.00,288.90 475.50,288.90 476.00,288.90 476.50,288.90 477.00,288.90 477.50,288.90 478.00,288.90 478.50,288.90 479.00,288.90 479.50,288.90 480.00,288.90 480.50,288.90 481.00,288.90 481.50,288.90 482.00,288.90 482.50,288.90 483.00,288.90 483.50,288.90 484.00,288.90 484.50,288.90 485.00,288.90 485.50,288.90 486.00,288.90 486.50,288.90 487.00,288.90 487.50,288.90 488.00,288.90 488.50,288.90 489.00,288.90 489.50,288.90 490.00,288.90 490.50,288.90 491.00,288.90 491.50,288.90 492.00,288.90 492.50,288.90 493.00,288.90 493.50,288.90 494.00,288.90 494.50,288.90 495.00,288.90 495.50,288.90 496.00,288.90 496.50,288.90 497.00,288.90 497.50,288.90 498.00,288.90 498.50,288.90 499.00,288.90 499.50,288.90 500.00,288.90 500.50,288.90 501.00,288.90 501.50,288.90 502.00,288.90 502.50,288.90 503.00,288.90 503.50,288.90 504.00,288.90 504.50,288.90 505.00,288.90 505.50,288.90 506.00,288.90 506.50,288.90 507.00,288.90 507.50,288.90 508.00,288.90 508.50,288.90 509.00,288.90 509.50,288.90 510.00,288.90 510.50,288.90 511.00,288.90 511.50,288.90 512.00,288.90 512.50,288.90 513.00,288.90 513.50,288.90 514.00,288.90 514.50,288.90 515.00,288.90 515.50,288.90 516.00,288.90 516.50,288.90 517.00,288.90 517.50,288.90 518.00,288.90 518.50,288.90 519.00,288.90 519.50,288.90 520.00,288.90 520.50,288.90 521.00,288.90 521.50,288.90 522.00,288.90 522.50,288.90 523.00,288.90 523.50,288.90 524.00,288.90 524.50,288.90 525.00,288.90 525.50,288.90 526.00,288.90 526.50,288.90 527.00,288.90 527.50,288.90 528.00,288.90 528.50,288.90 529.00,288.90 529.50,288.90 530.00,288.90 530.50,288.90 531.00,288.90 531.50,288.90 532.00,288.90 532.50,288.90 533.00,288.90 533.50,288.90 534.00,288.90 534.50,288.90 535.00,288.90 535.50,288.90 536.00,288.90 536.50,288.90 537.00,288.90 537.50,288.90 538.00,288.90 538.50,288.90 539.00,288.90 539.50,288.90 540.00,288.93 540.50,288.99 541.00,289.07 541.50,289.16 542.00,289.25 542.50,289.34 543.00,289.43 543.50,289.51 544.00,289.65 544.50,289.82 545.00,290.05 545.50,290.27 546.00,290.50 546.50,290.72 547.00,290.94 547.50,291.17 548.00,291.39 548.50,291.62 549.00,291.84 549.50,292.00 550.00,292.01 550.50,291.86 551.00,291.62 551.50,291.38 552.00,291.14 552.50,290.90 553.00,290.66 553.50,290.42 554.00,290.18 554.50,289.94 555.00,289.76 555.50,289.63 556.00,289.57 556.50,289.50 557.00,289.43 557.50,289.37 558.00,289.32 558.50,289.30 559.00,289.29 559.50,289.29 560.00,289.28 560.50,289.28 561.00,289.27 561.50,289.27 562.00,289.27 562.50,289.26 563.00,289.26 563.50,289.25 564.00,289.25 564.50,289.24 565.00,289.24 565.50,289.23 566.00,289.23 566.50,289.23 567.00,289.22 567.50,289.22 568.00,289.21 568.50,289.21 569.00,289.20 569.50,289.36 570.00,289.67 570.50,290.14 571.00,290.42 571.50,290.39 572.00,290.04 572.50,289.57 573.00,289.26 573.50,289.10 574.00,289.10 574.50,289.10 575.00,289.09 575.50,289.09 576.00,289.09 576.50,289.09 577.00,289.09 577.50,289.09 578.00,289.09 578.50,289.08 579.00,289.08 579.50,289.08 580.00,289.08 580.50,289.08 581.00,289.08 581.50,289.08 582.00,289.07 582.50,289.07 583.00,289.07 583.50,289.07 584.00,289.07 584.50,289.07 585.00,289.07 585.50,289.06 586.00,289.06 586.50,289.06 587.00,289.06 587.50,289.06 588.00,289.06 588.50,289.06 589.00,289.05 589.50,289.05 590.00,289.05 590.50,289.05 591.00,289.05 591.50,289.05 592.00,289.05 592.50,289.04 593.00,289.04 593.50,289.04 594.00,289.04 594.50,289.04 595.00,289.04 595.50,289.04 596.00,289.03 596.50,289.03 597.00,289.03 597.50,289.03 598.00,289.03 598.50,289.03 599.00,289.03 599.50,289.02 600.00,289.02 600.50,289.02 601.00,289.02 601.50,289.02 602.00,289.02 602.50,289.02 603.00,289.01 603.50,289.01 604.00,289.01 604.50,289.01 605.00,289.01 605.50,289.01 606.00,289.01 606.50,289.00 607.00,289.00 607.50,289.02 608.00,289.14 608.50,289.37 609.00,289.68 609.50,289.98 610.00,290.29 610.50,290.50 611.00,290.60 611.50,290.60 612.00,290.60 612.50,290.60 613.00,290.60 613.50,290.60 614.00,290.60 614.50,290.60 615.00,290.60 615.50,290.60 616.00,290.60 616.50,290.60 617.00,290.60 617.50,290.60 618.00,290.60 618.50,290.60 619.00,290.60 619.50,290.60 620.00,290.60 620.50,290.61 621.00,290.62 621.50,290.62 622.00,290.63 622.50,290.64 623.00,290.65 623.50,290.66 624.00,290.67 624.50,290.68 625.00,290.68 625.50,290.69 626.00,290.70 626.50,290.71 627.00,290.72 627.50,290.73 628.00,290.73 628.50,290.74 629.00,290.75 629.50,290.76 630.00,290.77 630.50,290.78 631.00,290.78 631.50,290.79 632.00,290.80" fill="none" stroke="#25a05f" stroke-width="1.8" stroke-linejoin="round" stroke-linecap="round" />
</g>
<rect x="373.0" y="216.4" width="259.0" height="136.4" fill="none" stroke="#000" stroke-width="2.1"/>
<line x1="373.00" y1="352.80" x2="373.00" y2="355.60" stroke="#000" stroke-width="1.3" stroke-linecap="butt"/>
<text x="373.00" y="367.10" font-size="10.5" font-weight="bold" text-anchor="middle" fill="#000" stroke="#000" stroke-width="0.22" >4000</text>
<line x1="447.00" y1="352.80" x2="447.00" y2="355.60" stroke="#000" stroke-width="1.3" stroke-linecap="butt"/>
<text x="447.00" y="367.10" font-size="10.5" font-weight="bold" text-anchor="middle" fill="#000" stroke="#000" stroke-width="0.22" >3000</text>
<line x1="521.00" y1="352.80" x2="521.00" y2="355.60" stroke="#000" stroke-width="1.3" stroke-linecap="butt"/>
<text x="521.00" y="367.10" font-size="10.5" font-weight="bold" text-anchor="middle" fill="#000" stroke="#000" stroke-width="0.22" >2000</text>
<line x1="595.00" y1="352.80" x2="595.00" y2="355.60" stroke="#000" stroke-width="1.3" stroke-linecap="butt"/>
<text x="595.00" y="367.10" font-size="10.5" font-weight="bold" text-anchor="middle" fill="#000" stroke="#000" stroke-width="0.22" >1000</text>
<line x1="410.00" y1="352.80" x2="410.00" y2="354.90" stroke="#000" stroke-width="1.1" stroke-linecap="butt"/>
<line x1="484.00" y1="352.80" x2="484.00" y2="354.90" stroke="#000" stroke-width="1.1" stroke-linecap="butt"/>
<line x1="558.00" y1="352.80" x2="558.00" y2="354.90" stroke="#000" stroke-width="1.1" stroke-linecap="butt"/>
<text x="506.50" y="381.00" font-size="11" font-weight="bold" text-anchor="middle" fill="#33201e" stroke="#33201e" stroke-width="0.22" >Wavenumber (cm<tspan font-size="6.5" dy="-4">-1</tspan><tspan dy="4">)</tspan></text>
<text x="363.30" y="285.00" font-size="11" font-weight="bold" text-anchor="middle" fill="#33201e" stroke="#33201e" stroke-width="0.22" transform="rotate(-90 363.3 285)" >Relative Transmitance</text>
<line x1="397.50" y1="315.20" x2="410.30" y2="315.20" stroke="#4b5051" stroke-width="2.0" stroke-linecap="butt"/>
<line x1="397.50" y1="329.80" x2="410.30" y2="329.80" stroke="#e2323d" stroke-width="2.0" stroke-linecap="butt"/>
<line x1="509.40" y1="314.90" x2="522.70" y2="314.90" stroke="#1c68b6" stroke-width="2.0" stroke-linecap="butt"/>
<line x1="509.40" y1="329.80" x2="522.70" y2="329.80" stroke="#25a05f" stroke-width="2.0" stroke-linecap="butt"/>
<text x="416.00" y="318.90" font-size="11" font-weight="bold" text-anchor="start" fill="#33201e" stroke="#33201e" stroke-width="0.22" >Oxalic acid</text>
<text x="416.00" y="333.50" font-size="11" font-weight="bold" text-anchor="start" fill="#33201e" stroke="#33201e" stroke-width="0.22" >Bio-oxalic acid</text>
<text x="528.00" y="318.60" font-size="11" font-weight="bold" text-anchor="start" fill="#33201e" stroke="#33201e" stroke-width="0.22" >Nd Oxalate</text>
<text x="528.00" y="333.50" font-size="11" font-weight="bold" text-anchor="start" fill="#33201e" stroke="#33201e" stroke-width="0.22" >Nd Bio-oxalate</text>
</svg>
</body></html>
